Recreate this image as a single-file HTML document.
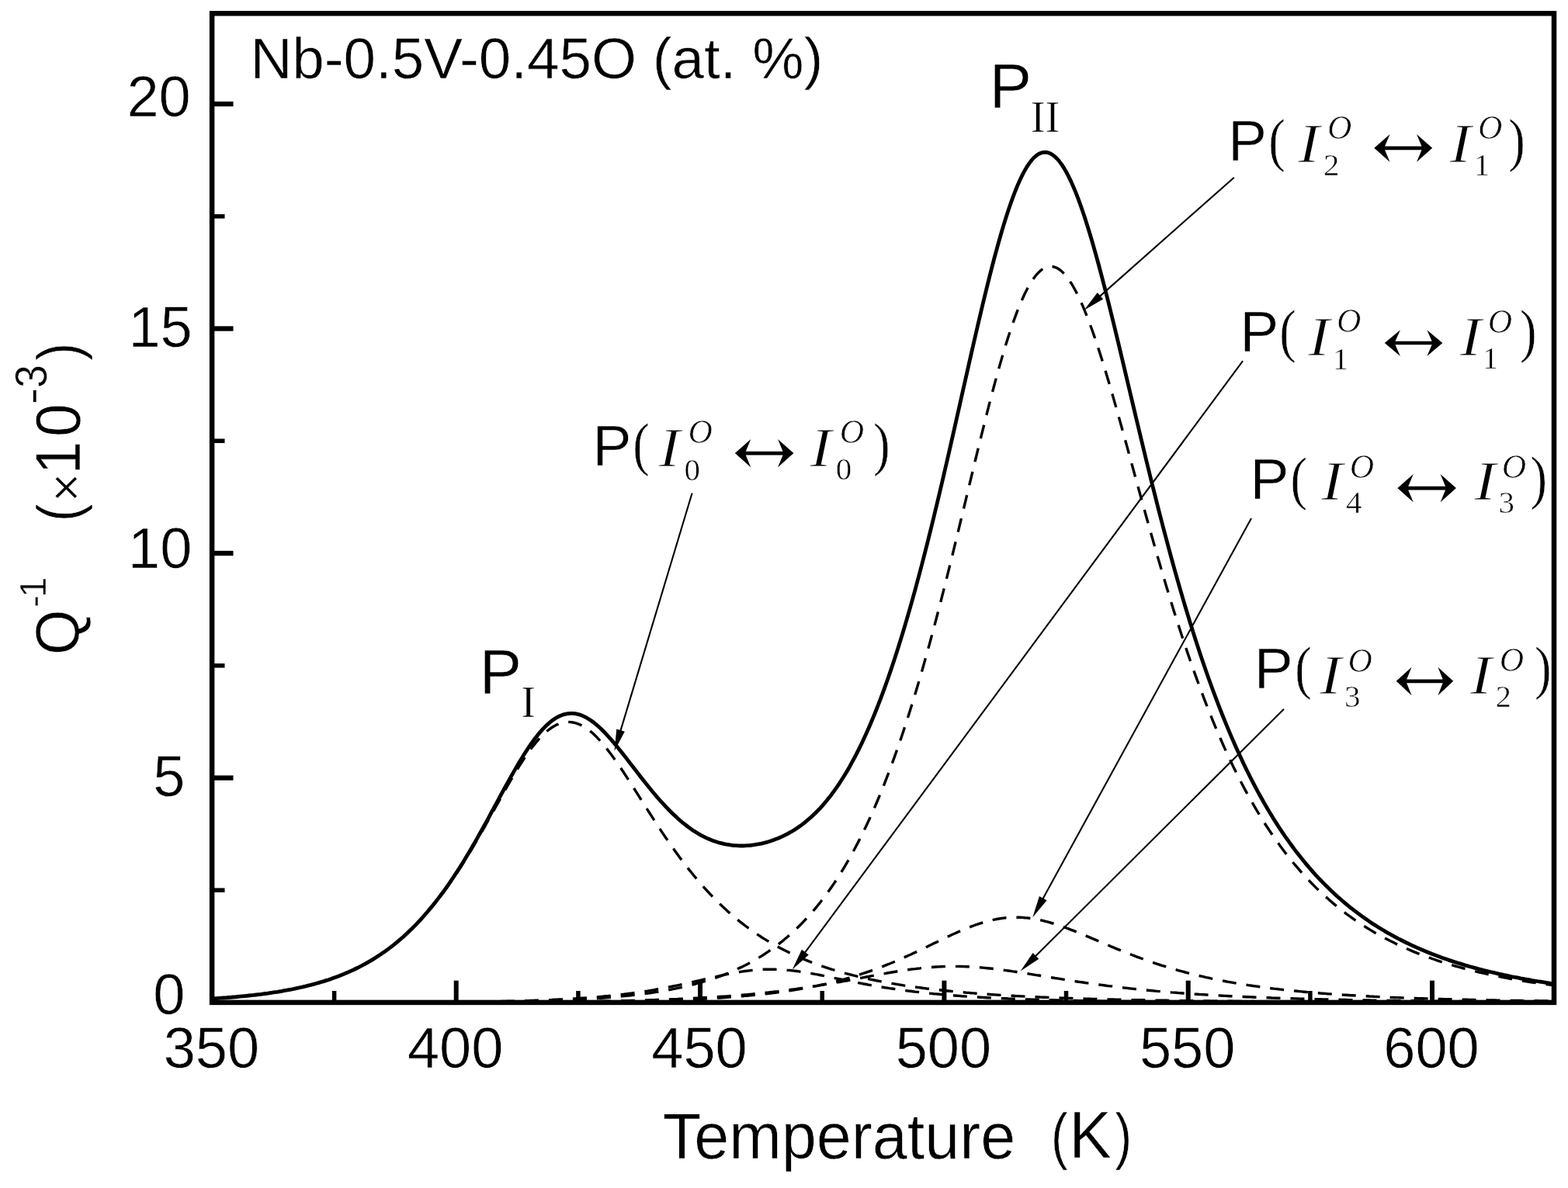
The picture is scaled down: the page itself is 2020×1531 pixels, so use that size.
<!DOCTYPE html>
<html><head><meta charset="utf-8"><title>Internal friction Q-1 vs temperature</title>
<style>html,body{margin:0;padding:0;background:#fff;overflow:hidden;} svg{display:block;}</style>
</head><body>
<svg width="2020" height="1531" viewBox="0 0 2020 1531">
<rect width="2020" height="1531" fill="#fff"/>
<defs><clipPath id="pc"><rect x="273" y="17" width="1729" height="1275"/></clipPath></defs>
<g clip-path="url(#pc)" fill="none" stroke="#000">
<path d="M273.0,1287.0 L276.0,1286.8 L279.0,1286.6 L282.0,1286.4 L285.0,1286.2 L288.0,1286.0 L291.0,1285.7 L294.0,1285.5 L297.0,1285.3 L300.0,1285.0 L303.0,1284.8 L306.0,1284.5 L309.0,1284.2 L312.0,1283.9 L315.0,1283.6 L318.0,1283.3 L321.0,1283.0 L324.0,1282.7 L327.0,1282.3 L330.0,1282.0 L333.0,1281.6 L336.0,1281.2 L339.0,1280.8 L342.0,1280.4 L345.0,1280.0 L348.0,1279.6 L351.0,1279.2 L354.0,1278.7 L357.0,1278.2 L360.0,1277.7 L363.0,1277.2 L366.0,1276.7 L369.0,1276.2 L372.0,1275.6 L375.0,1275.0 L378.0,1274.4 L381.0,1273.8 L384.0,1273.2 L387.0,1272.5 L390.0,1271.8 L393.0,1271.1 L396.0,1270.4 L399.0,1269.7 L402.0,1268.9 L405.0,1268.1 L408.0,1267.2 L411.0,1266.4 L414.0,1265.5 L417.0,1264.6 L420.0,1263.6 L423.0,1262.7 L426.0,1261.6 L429.0,1260.6 L432.0,1259.5 L435.0,1258.4 L438.0,1257.3 L441.0,1256.1 L444.0,1254.8 L447.0,1253.6 L450.0,1252.3 L453.0,1250.9 L456.0,1249.5 L459.0,1248.1 L462.0,1246.6 L465.0,1245.1 L468.0,1243.5 L471.0,1241.9 L474.0,1240.2 L477.0,1238.5 L480.0,1236.7 L483.0,1234.8 L486.0,1233.0 L489.0,1231.0 L492.0,1229.0 L495.0,1226.9 L498.0,1224.8 L501.0,1222.6 L504.0,1220.3 L507.0,1218.0 L510.0,1215.6 L513.0,1213.1 L516.0,1210.6 L519.0,1208.0 L522.0,1205.3 L525.0,1202.5 L528.0,1199.7 L531.0,1196.8 L534.0,1193.8 L537.0,1190.7 L540.0,1187.6 L543.0,1184.3 L546.0,1181.0 L549.0,1177.6 L552.0,1174.1 L555.0,1170.6 L558.0,1166.9 L561.0,1163.2 L564.0,1159.4 L567.0,1155.5 L570.0,1151.6 L573.0,1147.5 L576.0,1143.4 L579.0,1139.1 L582.0,1134.8 L585.0,1130.4 L588.0,1125.9 L591.0,1121.3 L594.0,1116.7 L597.0,1111.9 L600.0,1107.1 L603.0,1102.2 L606.0,1097.2 L609.0,1092.1 L612.0,1087.0 L615.0,1081.9 L618.0,1076.7 L621.0,1071.4 L624.0,1066.1 L627.0,1060.7 L630.0,1055.4 L633.0,1050.0 L636.0,1044.6 L639.0,1039.2 L642.0,1033.8 L645.0,1028.4 L648.0,1023.0 L651.0,1017.7 L654.0,1012.5 L657.0,1007.2 L660.0,1002.1 L663.0,997.0 L666.0,992.1 L669.0,987.2 L672.0,982.5 L675.0,977.9 L678.0,973.4 L681.0,969.2 L684.0,965.0 L687.0,961.1 L690.0,957.4 L693.0,953.8 L696.0,950.5 L699.0,947.4 L702.0,944.6 L705.0,942.0 L708.0,939.6 L711.0,937.5 L714.0,935.7 L717.0,934.1 L720.0,932.8 L723.0,931.8 L726.0,931.1 L729.0,930.6 L732.0,930.4 L735.0,930.6 L738.0,931.0 L741.0,931.6 L744.0,932.6 L747.0,933.8 L750.0,935.3 L753.0,937.0 L756.0,938.9 L759.0,941.1 L762.0,943.6 L765.0,946.3 L768.0,949.2 L771.0,952.4 L774.0,955.7 L777.0,959.1 L780.0,962.8 L783.0,966.6 L786.0,970.5 L789.0,974.5 L792.0,978.7 L795.0,983.0 L798.0,987.4 L801.0,991.8 L804.0,996.3 L807.0,1000.9 L810.0,1005.5 L813.0,1010.2 L816.0,1014.9 L819.0,1019.6 L822.0,1024.4 L825.0,1029.1 L828.0,1033.9 L831.0,1038.6 L834.0,1043.3 L837.0,1048.0 L840.0,1052.7 L843.0,1057.4 L846.0,1062.0 L849.0,1066.6 L852.0,1071.1 L855.0,1075.6 L858.0,1080.0 L861.0,1084.4 L864.0,1088.7 L867.0,1093.0 L870.0,1097.2 L873.0,1101.3 L876.0,1105.4 L879.0,1109.4 L882.0,1113.4 L885.0,1117.3 L888.0,1121.1 L891.0,1124.8 L894.0,1128.5 L897.0,1132.1 L900.0,1135.7 L903.0,1139.1 L906.0,1142.6 L909.0,1145.9 L912.0,1149.2 L915.0,1152.4 L918.0,1155.5 L921.0,1158.6 L924.0,1161.6 L927.0,1164.5 L930.0,1167.4 L933.0,1170.2 L936.0,1173.0 L939.0,1175.7 L942.0,1178.3 L945.0,1180.9 L948.0,1183.4 L951.0,1185.9 L954.0,1188.3 L957.0,1190.7 L960.0,1193.0 L963.0,1195.2 L966.0,1197.4 L969.0,1199.6 L972.0,1201.7 L975.0,1203.7 L978.0,1205.7 L981.0,1207.7 L984.0,1209.6 L987.0,1211.4 L990.0,1213.2 L993.0,1215.0 L996.0,1216.8 L999.0,1218.5 L1002.0,1220.1 L1005.0,1221.7 L1008.0,1223.3 L1011.0,1224.8 L1014.0,1226.3 L1017.0,1227.8 L1020.0,1229.2 L1023.0,1230.6 L1026.0,1232.0 L1029.0,1233.3 L1032.0,1234.6 L1035.0,1235.9 L1038.0,1237.2 L1041.0,1238.4 L1044.0,1239.6 L1047.0,1240.7 L1050.0,1241.8 L1053.0,1242.9 L1056.0,1244.0 L1059.0,1245.1 L1062.0,1246.1 L1065.0,1247.1 L1068.0,1248.1 L1071.0,1249.0 L1074.0,1250.0 L1077.0,1250.9 L1080.0,1251.8 L1083.0,1252.6 L1086.0,1253.5 L1089.0,1254.3 L1092.0,1255.1 L1095.0,1255.9 L1098.0,1256.7 L1101.0,1257.4 L1104.0,1258.2 L1107.0,1258.9 L1110.0,1259.6 L1113.0,1260.3 L1116.0,1261.0 L1119.0,1261.6 L1122.0,1262.3 L1125.0,1262.9 L1128.0,1263.5 L1131.0,1264.1 L1134.0,1264.7 L1137.0,1265.3 L1140.0,1265.8 L1143.0,1266.4 L1146.0,1266.9 L1149.0,1267.4 L1152.0,1267.9 L1155.0,1268.4 L1158.0,1268.9 L1161.0,1269.4 L1164.0,1269.9 L1167.0,1270.3 L1170.0,1270.8 L1173.0,1271.2 L1176.0,1271.6 L1179.0,1272.0 L1182.0,1272.4 L1185.0,1272.8 L1188.0,1273.2 L1191.0,1273.6 L1194.0,1274.0 L1197.0,1274.3 L1200.0,1274.7 L1203.0,1275.0 L1206.0,1275.4 L1209.0,1275.7 L1212.0,1276.0 L1215.0,1276.4 L1218.0,1276.7 L1221.0,1277.0 L1224.0,1277.3 L1227.0,1277.6 L1230.0,1277.9 L1233.0,1278.1 L1236.0,1278.4 L1239.0,1278.7 L1242.0,1278.9 L1245.0,1279.2 L1248.0,1279.4 L1251.0,1279.7 L1254.0,1279.9 L1257.0,1280.2 L1260.0,1280.4 L1263.0,1280.6 L1266.0,1280.8 L1269.0,1281.1 L1272.0,1281.3 L1275.0,1281.5 L1278.0,1281.7 L1281.0,1281.9 L1284.0,1282.1 L1287.0,1282.3 L1290.0,1282.4 L1293.0,1282.6 L1296.0,1282.8 L1299.0,1283.0 L1302.0,1283.1 L1305.0,1283.3 L1308.0,1283.5 L1311.0,1283.6 L1314.0,1283.8 L1317.0,1283.9 L1320.0,1284.1 L1323.0,1284.2 L1326.0,1284.4 L1329.0,1284.5 L1332.0,1284.7 L1335.0,1284.8 L1338.0,1284.9 L1341.0,1285.1 L1344.0,1285.2 L1347.0,1285.3 L1350.0,1285.4 L1353.0,1285.6 L1356.0,1285.7 L1359.0,1285.8 L1362.0,1285.9 L1365.0,1286.0 L1368.0,1286.1 L1371.0,1286.2 L1374.0,1286.3 L1377.0,1286.4 L1380.0,1286.5 L1383.0,1286.6 L1386.0,1286.7 L1389.0,1286.8 L1392.0,1286.9 L1395.0,1287.0 L1398.0,1287.1 L1401.0,1287.2 L1404.0,1287.3 L1407.0,1287.4 L1410.0,1287.4 L1413.0,1287.5 L1416.0,1287.6 L1419.0,1287.7 L1422.0,1287.8 L1425.0,1287.8 L1428.0,1287.9 L1431.0,1288.0 L1434.0,1288.0 L1437.0,1288.1 L1440.0,1288.2 L1443.0,1288.2 L1446.0,1288.3 L1449.0,1288.4 L1452.0,1288.4 L1455.0,1288.5 L1458.0,1288.6 L1461.0,1288.6 L1464.0,1288.7 L1467.0,1288.7 L1470.0,1288.8 L1473.0,1288.8 L1476.0,1288.9 L1479.0,1289.0 L1482.0,1289.0 L1485.0,1289.1 L1488.0,1289.1 L1491.0,1289.2 L1494.0,1289.2 L1497.0,1289.2 L1500.0,1289.3 L1503.0,1289.3 L1506.0,1289.4 L1509.0,1289.4 L1512.0,1289.5 L1515.0,1289.5 L1518.0,1289.6 L1521.0,1289.6 L1524.0,1289.6 L1527.0,1289.7 L1530.0,1289.7 L1533.0,1289.8 L1536.0,1289.8 L1539.0,1289.8 L1542.0,1289.9 L1545.0,1289.9 L1548.0,1289.9 L1551.0,1290.0 L1554.0,1290.0 L1557.0,1290.0 L1560.0,1290.1 L1563.0,1290.1 L1566.0,1290.1 L1569.0,1290.2 L1572.0,1290.2 L1575.0,1290.2 L1578.0,1290.2 L1581.0,1290.3 L1584.0,1290.3 L1587.0,1290.3 L1590.0,1290.4 L1593.0,1290.4 L1596.0,1290.4 L1599.0,1290.4 L1602.0,1290.5 L1605.0,1290.5 L1608.0,1290.5 L1611.0,1290.5 L1614.0,1290.5 L1617.0,1290.6 L1620.0,1290.6 L1623.0,1290.6 L1626.0,1290.6 L1629.0,1290.7 L1632.0,1290.7 L1635.0,1290.7 L1638.0,1290.7 L1641.0,1290.7 L1644.0,1290.8 L1647.0,1290.8 L1650.0,1290.8 L1653.0,1290.8 L1656.0,1290.8 L1659.0,1290.9 L1662.0,1290.9 L1665.0,1290.9 L1668.0,1290.9 L1671.0,1290.9 L1674.0,1290.9 L1677.0,1291.0 L1680.0,1291.0 L1683.0,1291.0 L1686.0,1291.0 L1689.0,1291.0 L1692.0,1291.0 L1695.0,1291.0 L1698.0,1291.1 L1701.0,1291.1 L1704.0,1291.1 L1707.0,1291.1 L1710.0,1291.1 L1713.0,1291.1 L1716.0,1291.1 L1719.0,1291.2 L1722.0,1291.2 L1725.0,1291.2 L1728.0,1291.2 L1731.0,1291.2 L1734.0,1291.2 L1737.0,1291.2 L1740.0,1291.2 L1743.0,1291.2 L1746.0,1291.3 L1749.0,1291.3 L1752.0,1291.3 L1755.0,1291.3 L1758.0,1291.3 L1761.0,1291.3 L1764.0,1291.3 L1767.0,1291.3 L1770.0,1291.3 L1773.0,1291.4 L1776.0,1291.4 L1779.0,1291.4 L1782.0,1291.4 L1785.0,1291.4 L1788.0,1291.4 L1791.0,1291.4 L1794.0,1291.4 L1797.0,1291.4 L1800.0,1291.4 L1803.0,1291.4 L1806.0,1291.4 L1809.0,1291.5 L1812.0,1291.5 L1815.0,1291.5 L1818.0,1291.5 L1821.0,1291.5 L1824.0,1291.5 L1827.0,1291.5 L1830.0,1291.5 L1833.0,1291.5 L1836.0,1291.5 L1839.0,1291.5 L1842.0,1291.5 L1845.0,1291.5 L1848.0,1291.5 L1851.0,1291.6 L1854.0,1291.6 L1857.0,1291.6 L1860.0,1291.6 L1863.0,1291.6 L1866.0,1291.6 L1869.0,1291.6 L1872.0,1291.6 L1875.0,1291.6 L1878.0,1291.6 L1881.0,1291.6 L1884.0,1291.6 L1887.0,1291.6 L1890.0,1291.6 L1893.0,1291.6 L1896.0,1291.6 L1899.0,1291.6 L1902.0,1291.6 L1905.0,1291.7 L1908.0,1291.7 L1911.0,1291.7 L1914.0,1291.7 L1917.0,1291.7 L1920.0,1291.7 L1923.0,1291.7 L1926.0,1291.7 L1929.0,1291.7 L1932.0,1291.7 L1935.0,1291.7 L1938.0,1291.7 L1941.0,1291.7 L1944.0,1291.7 L1947.0,1291.7 L1950.0,1291.7 L1953.0,1291.7 L1956.0,1291.7 L1959.0,1291.7 L1962.0,1291.7 L1965.0,1291.7 L1968.0,1291.7 L1971.0,1291.7 L1974.0,1291.7 L1977.0,1291.7 L1980.0,1291.7 L1983.0,1291.8 L1986.0,1291.8 L1989.0,1291.8 L1992.0,1291.8 L1995.0,1291.8 L1998.0,1291.8 L2001.0,1291.8" stroke-width="3.4" stroke-dasharray="18 13"/>
<path d="M273.0,1292.0 L276.0,1292.0 L279.0,1292.0 L282.0,1292.0 L285.0,1292.0 L288.0,1292.0 L291.0,1292.0 L294.0,1292.0 L297.0,1292.0 L300.0,1292.0 L303.0,1292.0 L306.0,1292.0 L309.0,1292.0 L312.0,1292.0 L315.0,1292.0 L318.0,1292.0 L321.0,1292.0 L324.0,1292.0 L327.0,1292.0 L330.0,1292.0 L333.0,1292.0 L336.0,1292.0 L339.0,1292.0 L342.0,1292.0 L345.0,1292.0 L348.0,1292.0 L351.0,1292.0 L354.0,1292.0 L357.0,1292.0 L360.0,1292.0 L363.0,1292.0 L366.0,1292.0 L369.0,1292.0 L372.0,1292.0 L375.0,1292.0 L378.0,1292.0 L381.0,1292.0 L384.0,1292.0 L387.0,1292.0 L390.0,1292.0 L393.0,1292.0 L396.0,1292.0 L399.0,1292.0 L402.0,1292.0 L405.0,1292.0 L408.0,1292.0 L411.0,1291.9 L414.0,1291.9 L417.0,1291.9 L420.0,1291.9 L423.0,1291.9 L426.0,1291.9 L429.0,1291.9 L432.0,1291.9 L435.0,1291.9 L438.0,1291.9 L441.0,1291.9 L444.0,1291.9 L447.0,1291.9 L450.0,1291.9 L453.0,1291.9 L456.0,1291.9 L459.0,1291.9 L462.0,1291.9 L465.0,1291.9 L468.0,1291.9 L471.0,1291.9 L474.0,1291.9 L477.0,1291.9 L480.0,1291.9 L483.0,1291.8 L486.0,1291.8 L489.0,1291.8 L492.0,1291.8 L495.0,1291.8 L498.0,1291.8 L501.0,1291.8 L504.0,1291.8 L507.0,1291.8 L510.0,1291.8 L513.0,1291.8 L516.0,1291.7 L519.0,1291.7 L522.0,1291.7 L525.0,1291.7 L528.0,1291.7 L531.0,1291.7 L534.0,1291.7 L537.0,1291.7 L540.0,1291.6 L543.0,1291.6 L546.0,1291.6 L549.0,1291.6 L552.0,1291.6 L555.0,1291.6 L558.0,1291.5 L561.0,1291.5 L564.0,1291.5 L567.0,1291.5 L570.0,1291.4 L573.0,1291.4 L576.0,1291.4 L579.0,1291.4 L582.0,1291.3 L585.0,1291.3 L588.0,1291.3 L591.0,1291.3 L594.0,1291.2 L597.0,1291.2 L600.0,1291.2 L603.0,1291.1 L606.0,1291.1 L609.0,1291.1 L612.0,1291.0 L615.0,1291.0 L618.0,1290.9 L621.0,1290.9 L624.0,1290.8 L627.0,1290.8 L630.0,1290.8 L633.0,1290.7 L636.0,1290.6 L639.0,1290.6 L642.0,1290.5 L645.0,1290.5 L648.0,1290.4 L651.0,1290.4 L654.0,1290.3 L657.0,1290.2 L660.0,1290.2 L663.0,1290.1 L666.0,1290.0 L669.0,1289.9 L672.0,1289.8 L675.0,1289.8 L678.0,1289.7 L681.0,1289.6 L684.0,1289.5 L687.0,1289.4 L690.0,1289.3 L693.0,1289.2 L696.0,1289.1 L699.0,1289.0 L702.0,1288.8 L705.0,1288.7 L708.0,1288.6 L711.0,1288.5 L714.0,1288.3 L717.0,1288.2 L720.0,1288.0 L723.0,1287.9 L726.0,1287.7 L729.0,1287.6 L732.0,1287.4 L735.0,1287.2 L738.0,1287.1 L741.0,1286.9 L744.0,1286.7 L747.0,1286.5 L750.0,1286.3 L753.0,1286.1 L756.0,1285.9 L759.0,1285.6 L762.0,1285.4 L765.0,1285.2 L768.0,1284.9 L771.0,1284.7 L774.0,1284.4 L777.0,1284.1 L780.0,1283.8 L783.0,1283.6 L786.0,1283.3 L789.0,1283.0 L792.0,1282.6 L795.0,1282.3 L798.0,1282.0 L801.0,1281.6 L804.0,1281.3 L807.0,1280.9 L810.0,1280.5 L813.0,1280.1 L816.0,1279.7 L819.0,1279.3 L822.0,1278.9 L825.0,1278.4 L828.0,1278.0 L831.0,1277.5 L834.0,1277.1 L837.0,1276.6 L840.0,1276.1 L843.0,1275.6 L846.0,1275.0 L849.0,1274.5 L852.0,1274.0 L855.0,1273.4 L858.0,1272.8 L861.0,1272.2 L864.0,1271.6 L867.0,1271.0 L870.0,1270.4 L873.0,1269.8 L876.0,1269.2 L879.0,1268.5 L882.0,1267.9 L885.0,1267.2 L888.0,1266.5 L891.0,1265.8 L894.0,1265.2 L897.0,1264.5 L900.0,1263.8 L903.0,1263.1 L906.0,1262.4 L909.0,1261.7 L912.0,1261.0 L915.0,1260.3 L918.0,1259.6 L921.0,1258.9 L924.0,1258.3 L927.0,1257.6 L930.0,1257.0 L933.0,1256.3 L936.0,1255.7 L939.0,1255.1 L942.0,1254.5 L945.0,1253.9 L948.0,1253.4 L951.0,1252.9 L954.0,1252.4 L957.0,1251.9 L960.0,1251.5 L963.0,1251.1 L966.0,1250.8 L969.0,1250.4 L972.0,1250.1 L975.0,1249.9 L978.0,1249.7 L981.0,1249.5 L984.0,1249.3 L987.0,1249.3 L990.0,1249.2 L993.0,1249.2 L996.0,1249.2 L999.0,1249.3 L1002.0,1249.4 L1005.0,1249.5 L1008.0,1249.7 L1011.0,1249.9 L1014.0,1250.2 L1017.0,1250.4 L1020.0,1250.8 L1023.0,1251.1 L1026.0,1251.5 L1029.0,1251.9 L1032.0,1252.3 L1035.0,1252.8 L1038.0,1253.3 L1041.0,1253.8 L1044.0,1254.3 L1047.0,1254.8 L1050.0,1255.4 L1053.0,1255.9 L1056.0,1256.5 L1059.0,1257.1 L1062.0,1257.7 L1065.0,1258.3 L1068.0,1258.9 L1071.0,1259.5 L1074.0,1260.2 L1077.0,1260.8 L1080.0,1261.4 L1083.0,1262.0 L1086.0,1262.6 L1089.0,1263.2 L1092.0,1263.8 L1095.0,1264.5 L1098.0,1265.1 L1101.0,1265.6 L1104.0,1266.2 L1107.0,1266.8 L1110.0,1267.4 L1113.0,1268.0 L1116.0,1268.5 L1119.0,1269.1 L1122.0,1269.6 L1125.0,1270.1 L1128.0,1270.7 L1131.0,1271.2 L1134.0,1271.7 L1137.0,1272.2 L1140.0,1272.7 L1143.0,1273.1 L1146.0,1273.6 L1149.0,1274.0 L1152.0,1274.5 L1155.0,1274.9 L1158.0,1275.4 L1161.0,1275.8 L1164.0,1276.2 L1167.0,1276.6 L1170.0,1277.0 L1173.0,1277.3 L1176.0,1277.7 L1179.0,1278.1 L1182.0,1278.4 L1185.0,1278.8 L1188.0,1279.1 L1191.0,1279.4 L1194.0,1279.7 L1197.0,1280.1 L1200.0,1280.4 L1203.0,1280.7 L1206.0,1280.9 L1209.0,1281.2 L1212.0,1281.5 L1215.0,1281.8 L1218.0,1282.0 L1221.0,1282.3 L1224.0,1282.5 L1227.0,1282.8 L1230.0,1283.0 L1233.0,1283.2 L1236.0,1283.4 L1239.0,1283.7 L1242.0,1283.9 L1245.0,1284.1 L1248.0,1284.3 L1251.0,1284.5 L1254.0,1284.7 L1257.0,1284.8 L1260.0,1285.0 L1263.0,1285.2 L1266.0,1285.4 L1269.0,1285.5 L1272.0,1285.7 L1275.0,1285.9 L1278.0,1286.0 L1281.0,1286.2 L1284.0,1286.3 L1287.0,1286.4 L1290.0,1286.6 L1293.0,1286.7 L1296.0,1286.8 L1299.0,1287.0 L1302.0,1287.1 L1305.0,1287.2 L1308.0,1287.3 L1311.0,1287.4 L1314.0,1287.6 L1317.0,1287.7 L1320.0,1287.8 L1323.0,1287.9 L1326.0,1288.0 L1329.0,1288.1 L1332.0,1288.2 L1335.0,1288.3 L1338.0,1288.3 L1341.0,1288.4 L1344.0,1288.5 L1347.0,1288.6 L1350.0,1288.7 L1353.0,1288.8 L1356.0,1288.8 L1359.0,1288.9 L1362.0,1289.0 L1365.0,1289.1 L1368.0,1289.1 L1371.0,1289.2 L1374.0,1289.3 L1377.0,1289.3 L1380.0,1289.4 L1383.0,1289.5 L1386.0,1289.5 L1389.0,1289.6 L1392.0,1289.6 L1395.0,1289.7 L1398.0,1289.7 L1401.0,1289.8 L1404.0,1289.8 L1407.0,1289.9 L1410.0,1289.9 L1413.0,1290.0 L1416.0,1290.0 L1419.0,1290.1 L1422.0,1290.1 L1425.0,1290.2 L1428.0,1290.2 L1431.0,1290.3 L1434.0,1290.3 L1437.0,1290.3 L1440.0,1290.4 L1443.0,1290.4 L1446.0,1290.4 L1449.0,1290.5 L1452.0,1290.5 L1455.0,1290.5 L1458.0,1290.6 L1461.0,1290.6 L1464.0,1290.6 L1467.0,1290.7 L1470.0,1290.7 L1473.0,1290.7 L1476.0,1290.8 L1479.0,1290.8 L1482.0,1290.8 L1485.0,1290.8 L1488.0,1290.9 L1491.0,1290.9 L1494.0,1290.9 L1497.0,1290.9 L1500.0,1291.0 L1503.0,1291.0 L1506.0,1291.0 L1509.0,1291.0 L1512.0,1291.1 L1515.0,1291.1 L1518.0,1291.1 L1521.0,1291.1 L1524.0,1291.1 L1527.0,1291.1 L1530.0,1291.2 L1533.0,1291.2 L1536.0,1291.2 L1539.0,1291.2 L1542.0,1291.2 L1545.0,1291.3 L1548.0,1291.3 L1551.0,1291.3 L1554.0,1291.3 L1557.0,1291.3 L1560.0,1291.3 L1563.0,1291.3 L1566.0,1291.4 L1569.0,1291.4 L1572.0,1291.4 L1575.0,1291.4 L1578.0,1291.4 L1581.0,1291.4 L1584.0,1291.4 L1587.0,1291.4 L1590.0,1291.5 L1593.0,1291.5 L1596.0,1291.5 L1599.0,1291.5 L1602.0,1291.5 L1605.0,1291.5 L1608.0,1291.5 L1611.0,1291.5 L1614.0,1291.5 L1617.0,1291.6 L1620.0,1291.6 L1623.0,1291.6 L1626.0,1291.6 L1629.0,1291.6 L1632.0,1291.6 L1635.0,1291.6 L1638.0,1291.6 L1641.0,1291.6 L1644.0,1291.6 L1647.0,1291.6 L1650.0,1291.6 L1653.0,1291.6 L1656.0,1291.7 L1659.0,1291.7 L1662.0,1291.7 L1665.0,1291.7 L1668.0,1291.7 L1671.0,1291.7 L1674.0,1291.7 L1677.0,1291.7 L1680.0,1291.7 L1683.0,1291.7 L1686.0,1291.7 L1689.0,1291.7 L1692.0,1291.7 L1695.0,1291.7 L1698.0,1291.7 L1701.0,1291.7 L1704.0,1291.8 L1707.0,1291.8 L1710.0,1291.8 L1713.0,1291.8 L1716.0,1291.8 L1719.0,1291.8 L1722.0,1291.8 L1725.0,1291.8 L1728.0,1291.8 L1731.0,1291.8 L1734.0,1291.8 L1737.0,1291.8 L1740.0,1291.8 L1743.0,1291.8 L1746.0,1291.8 L1749.0,1291.8 L1752.0,1291.8 L1755.0,1291.8 L1758.0,1291.8 L1761.0,1291.8 L1764.0,1291.8 L1767.0,1291.8 L1770.0,1291.8 L1773.0,1291.8 L1776.0,1291.8 L1779.0,1291.8 L1782.0,1291.8 L1785.0,1291.9 L1788.0,1291.9 L1791.0,1291.9 L1794.0,1291.9 L1797.0,1291.9 L1800.0,1291.9 L1803.0,1291.9 L1806.0,1291.9 L1809.0,1291.9 L1812.0,1291.9 L1815.0,1291.9 L1818.0,1291.9 L1821.0,1291.9 L1824.0,1291.9 L1827.0,1291.9 L1830.0,1291.9 L1833.0,1291.9 L1836.0,1291.9 L1839.0,1291.9 L1842.0,1291.9 L1845.0,1291.9 L1848.0,1291.9 L1851.0,1291.9 L1854.0,1291.9 L1857.0,1291.9 L1860.0,1291.9 L1863.0,1291.9 L1866.0,1291.9 L1869.0,1291.9 L1872.0,1291.9 L1875.0,1291.9 L1878.0,1291.9 L1881.0,1291.9 L1884.0,1291.9 L1887.0,1291.9 L1890.0,1291.9 L1893.0,1291.9 L1896.0,1291.9 L1899.0,1291.9 L1902.0,1291.9 L1905.0,1291.9 L1908.0,1291.9 L1911.0,1291.9 L1914.0,1291.9 L1917.0,1291.9 L1920.0,1291.9 L1923.0,1291.9 L1926.0,1291.9 L1929.0,1291.9 L1932.0,1291.9 L1935.0,1291.9 L1938.0,1291.9 L1941.0,1291.9 L1944.0,1291.9 L1947.0,1291.9 L1950.0,1291.9 L1953.0,1291.9 L1956.0,1291.9 L1959.0,1291.9 L1962.0,1291.9 L1965.0,1292.0 L1968.0,1292.0 L1971.0,1292.0 L1974.0,1292.0 L1977.0,1292.0 L1980.0,1292.0 L1983.0,1292.0 L1986.0,1292.0 L1989.0,1292.0 L1992.0,1292.0 L1995.0,1292.0 L1998.0,1292.0 L2001.0,1292.0" stroke-width="3.4" stroke-dasharray="18 13"/>
<path d="M273.0,1292.0 L276.0,1292.0 L279.0,1292.0 L282.0,1292.0 L285.0,1292.0 L288.0,1292.0 L291.0,1292.0 L294.0,1292.0 L297.0,1292.0 L300.0,1292.0 L303.0,1292.0 L306.0,1292.0 L309.0,1292.0 L312.0,1292.0 L315.0,1292.0 L318.0,1292.0 L321.0,1292.0 L324.0,1292.0 L327.0,1292.0 L330.0,1292.0 L333.0,1292.0 L336.0,1292.0 L339.0,1292.0 L342.0,1292.0 L345.0,1292.0 L348.0,1292.0 L351.0,1292.0 L354.0,1292.0 L357.0,1292.0 L360.0,1292.0 L363.0,1292.0 L366.0,1292.0 L369.0,1292.0 L372.0,1292.0 L375.0,1292.0 L378.0,1292.0 L381.0,1292.0 L384.0,1292.0 L387.0,1292.0 L390.0,1292.0 L393.0,1292.0 L396.0,1292.0 L399.0,1292.0 L402.0,1292.0 L405.0,1292.0 L408.0,1292.0 L411.0,1292.0 L414.0,1292.0 L417.0,1292.0 L420.0,1292.0 L423.0,1292.0 L426.0,1292.0 L429.0,1292.0 L432.0,1292.0 L435.0,1292.0 L438.0,1292.0 L441.0,1292.0 L444.0,1292.0 L447.0,1292.0 L450.0,1292.0 L453.0,1292.0 L456.0,1292.0 L459.0,1292.0 L462.0,1292.0 L465.0,1292.0 L468.0,1292.0 L471.0,1291.9 L474.0,1291.9 L477.0,1291.9 L480.0,1291.9 L483.0,1291.9 L486.0,1291.9 L489.0,1291.9 L492.0,1291.9 L495.0,1291.9 L498.0,1291.9 L501.0,1291.9 L504.0,1291.9 L507.0,1291.9 L510.0,1291.9 L513.0,1291.9 L516.0,1291.9 L519.0,1291.9 L522.0,1291.9 L525.0,1291.9 L528.0,1291.9 L531.0,1291.9 L534.0,1291.9 L537.0,1291.9 L540.0,1291.9 L543.0,1291.9 L546.0,1291.9 L549.0,1291.9 L552.0,1291.9 L555.0,1291.9 L558.0,1291.8 L561.0,1291.8 L564.0,1291.8 L567.0,1291.8 L570.0,1291.8 L573.0,1291.8 L576.0,1291.8 L579.0,1291.8 L582.0,1291.8 L585.0,1291.8 L588.0,1291.8 L591.0,1291.8 L594.0,1291.8 L597.0,1291.8 L600.0,1291.7 L603.0,1291.7 L606.0,1291.7 L609.0,1291.7 L612.0,1291.7 L615.0,1291.7 L618.0,1291.7 L621.0,1291.7 L624.0,1291.7 L627.0,1291.7 L630.0,1291.6 L633.0,1291.6 L636.0,1291.6 L639.0,1291.6 L642.0,1291.6 L645.0,1291.6 L648.0,1291.6 L651.0,1291.5 L654.0,1291.5 L657.0,1291.5 L660.0,1291.5 L663.0,1291.5 L666.0,1291.5 L669.0,1291.4 L672.0,1291.4 L675.0,1291.4 L678.0,1291.4 L681.0,1291.4 L684.0,1291.3 L687.0,1291.3 L690.0,1291.3 L693.0,1291.3 L696.0,1291.3 L699.0,1291.2 L702.0,1291.2 L705.0,1291.2 L708.0,1291.2 L711.0,1291.1 L714.0,1291.1 L717.0,1291.1 L720.0,1291.0 L723.0,1291.0 L726.0,1291.0 L729.0,1290.9 L732.0,1290.9 L735.0,1290.9 L738.0,1290.8 L741.0,1290.8 L744.0,1290.8 L747.0,1290.7 L750.0,1290.7 L753.0,1290.6 L756.0,1290.6 L759.0,1290.5 L762.0,1290.5 L765.0,1290.5 L768.0,1290.4 L771.0,1290.4 L774.0,1290.3 L777.0,1290.2 L780.0,1290.2 L783.0,1290.1 L786.0,1290.1 L789.0,1290.0 L792.0,1290.0 L795.0,1289.9 L798.0,1289.8 L801.0,1289.8 L804.0,1289.7 L807.0,1289.6 L810.0,1289.6 L813.0,1289.5 L816.0,1289.4 L819.0,1289.3 L822.0,1289.2 L825.0,1289.2 L828.0,1289.1 L831.0,1289.0 L834.0,1288.9 L837.0,1288.8 L840.0,1288.7 L843.0,1288.6 L846.0,1288.5 L849.0,1288.4 L852.0,1288.3 L855.0,1288.2 L858.0,1288.1 L861.0,1288.0 L864.0,1287.8 L867.0,1287.7 L870.0,1287.6 L873.0,1287.5 L876.0,1287.3 L879.0,1287.2 L882.0,1287.1 L885.0,1286.9 L888.0,1286.8 L891.0,1286.6 L894.0,1286.5 L897.0,1286.3 L900.0,1286.2 L903.0,1286.0 L906.0,1285.8 L909.0,1285.6 L912.0,1285.5 L915.0,1285.3 L918.0,1285.1 L921.0,1284.9 L924.0,1284.7 L927.0,1284.5 L930.0,1284.3 L933.0,1284.1 L936.0,1283.9 L939.0,1283.7 L942.0,1283.4 L945.0,1283.2 L948.0,1282.9 L951.0,1282.7 L954.0,1282.5 L957.0,1282.2 L960.0,1281.9 L963.0,1281.7 L966.0,1281.4 L969.0,1281.1 L972.0,1280.8 L975.0,1280.5 L978.0,1280.2 L981.0,1279.9 L984.0,1279.6 L987.0,1279.3 L990.0,1279.0 L993.0,1278.6 L996.0,1278.3 L999.0,1277.9 L1002.0,1277.6 L1005.0,1277.2 L1008.0,1276.8 L1011.0,1276.5 L1014.0,1276.1 L1017.0,1275.7 L1020.0,1275.3 L1023.0,1274.9 L1026.0,1274.5 L1029.0,1274.0 L1032.0,1273.6 L1035.0,1273.2 L1038.0,1272.7 L1041.0,1272.3 L1044.0,1271.8 L1047.0,1271.3 L1050.0,1270.9 L1053.0,1270.4 L1056.0,1269.9 L1059.0,1269.4 L1062.0,1268.9 L1065.0,1268.4 L1068.0,1267.9 L1071.0,1267.3 L1074.0,1266.8 L1077.0,1266.3 L1080.0,1265.7 L1083.0,1265.2 L1086.0,1264.7 L1089.0,1264.1 L1092.0,1263.5 L1095.0,1263.0 L1098.0,1262.4 L1101.0,1261.9 L1104.0,1261.3 L1107.0,1260.7 L1110.0,1260.2 L1113.0,1259.6 L1116.0,1259.0 L1119.0,1258.5 L1122.0,1257.9 L1125.0,1257.3 L1128.0,1256.8 L1131.0,1256.2 L1134.0,1255.7 L1137.0,1255.1 L1140.0,1254.6 L1143.0,1254.0 L1146.0,1253.5 L1149.0,1253.0 L1152.0,1252.5 L1155.0,1252.0 L1158.0,1251.5 L1161.0,1251.1 L1164.0,1250.6 L1167.0,1250.2 L1170.0,1249.7 L1173.0,1249.3 L1176.0,1248.9 L1179.0,1248.6 L1182.0,1248.2 L1185.0,1247.9 L1188.0,1247.5 L1191.0,1247.2 L1194.0,1246.9 L1197.0,1246.7 L1200.0,1246.5 L1203.0,1246.2 L1206.0,1246.0 L1209.0,1245.9 L1212.0,1245.7 L1215.0,1245.6 L1218.0,1245.5 L1221.0,1245.4 L1224.0,1245.4 L1227.0,1245.4 L1230.0,1245.4 L1233.0,1245.4 L1236.0,1245.4 L1239.0,1245.5 L1242.0,1245.6 L1245.0,1245.7 L1248.0,1245.8 L1251.0,1246.0 L1254.0,1246.2 L1257.0,1246.4 L1260.0,1246.6 L1263.0,1246.8 L1266.0,1247.1 L1269.0,1247.4 L1272.0,1247.7 L1275.0,1248.0 L1278.0,1248.3 L1281.0,1248.7 L1284.0,1249.0 L1287.0,1249.4 L1290.0,1249.8 L1293.0,1250.2 L1296.0,1250.6 L1299.0,1251.0 L1302.0,1251.4 L1305.0,1251.9 L1308.0,1252.3 L1311.0,1252.8 L1314.0,1253.2 L1317.0,1253.7 L1320.0,1254.1 L1323.0,1254.6 L1326.0,1255.1 L1329.0,1255.6 L1332.0,1256.1 L1335.0,1256.6 L1338.0,1257.0 L1341.0,1257.5 L1344.0,1258.0 L1347.0,1258.5 L1350.0,1259.0 L1353.0,1259.5 L1356.0,1260.0 L1359.0,1260.5 L1362.0,1260.9 L1365.0,1261.4 L1368.0,1261.9 L1371.0,1262.4 L1374.0,1262.9 L1377.0,1263.3 L1380.0,1263.8 L1383.0,1264.2 L1386.0,1264.7 L1389.0,1265.2 L1392.0,1265.6 L1395.0,1266.0 L1398.0,1266.5 L1401.0,1266.9 L1404.0,1267.3 L1407.0,1267.8 L1410.0,1268.2 L1413.0,1268.6 L1416.0,1269.0 L1419.0,1269.4 L1422.0,1269.8 L1425.0,1270.2 L1428.0,1270.6 L1431.0,1270.9 L1434.0,1271.3 L1437.0,1271.7 L1440.0,1272.0 L1443.0,1272.4 L1446.0,1272.8 L1449.0,1273.1 L1452.0,1273.4 L1455.0,1273.8 L1458.0,1274.1 L1461.0,1274.4 L1464.0,1274.7 L1467.0,1275.0 L1470.0,1275.4 L1473.0,1275.7 L1476.0,1275.9 L1479.0,1276.2 L1482.0,1276.5 L1485.0,1276.8 L1488.0,1277.1 L1491.0,1277.4 L1494.0,1277.6 L1497.0,1277.9 L1500.0,1278.1 L1503.0,1278.4 L1506.0,1278.6 L1509.0,1278.9 L1512.0,1279.1 L1515.0,1279.3 L1518.0,1279.6 L1521.0,1279.8 L1524.0,1280.0 L1527.0,1280.2 L1530.0,1280.5 L1533.0,1280.7 L1536.0,1280.9 L1539.0,1281.1 L1542.0,1281.3 L1545.0,1281.5 L1548.0,1281.6 L1551.0,1281.8 L1554.0,1282.0 L1557.0,1282.2 L1560.0,1282.4 L1563.0,1282.5 L1566.0,1282.7 L1569.0,1282.9 L1572.0,1283.0 L1575.0,1283.2 L1578.0,1283.4 L1581.0,1283.5 L1584.0,1283.7 L1587.0,1283.8 L1590.0,1284.0 L1593.0,1284.1 L1596.0,1284.2 L1599.0,1284.4 L1602.0,1284.5 L1605.0,1284.7 L1608.0,1284.8 L1611.0,1284.9 L1614.0,1285.0 L1617.0,1285.2 L1620.0,1285.3 L1623.0,1285.4 L1626.0,1285.5 L1629.0,1285.6 L1632.0,1285.7 L1635.0,1285.8 L1638.0,1286.0 L1641.0,1286.1 L1644.0,1286.2 L1647.0,1286.3 L1650.0,1286.4 L1653.0,1286.5 L1656.0,1286.6 L1659.0,1286.6 L1662.0,1286.7 L1665.0,1286.8 L1668.0,1286.9 L1671.0,1287.0 L1674.0,1287.1 L1677.0,1287.2 L1680.0,1287.3 L1683.0,1287.3 L1686.0,1287.4 L1689.0,1287.5 L1692.0,1287.6 L1695.0,1287.6 L1698.0,1287.7 L1701.0,1287.8 L1704.0,1287.9 L1707.0,1287.9 L1710.0,1288.0 L1713.0,1288.1 L1716.0,1288.1 L1719.0,1288.2 L1722.0,1288.3 L1725.0,1288.3 L1728.0,1288.4 L1731.0,1288.4 L1734.0,1288.5 L1737.0,1288.6 L1740.0,1288.6 L1743.0,1288.7 L1746.0,1288.7 L1749.0,1288.8 L1752.0,1288.8 L1755.0,1288.9 L1758.0,1288.9 L1761.0,1289.0 L1764.0,1289.0 L1767.0,1289.1 L1770.0,1289.1 L1773.0,1289.2 L1776.0,1289.2 L1779.0,1289.3 L1782.0,1289.3 L1785.0,1289.4 L1788.0,1289.4 L1791.0,1289.4 L1794.0,1289.5 L1797.0,1289.5 L1800.0,1289.6 L1803.0,1289.6 L1806.0,1289.6 L1809.0,1289.7 L1812.0,1289.7 L1815.0,1289.8 L1818.0,1289.8 L1821.0,1289.8 L1824.0,1289.9 L1827.0,1289.9 L1830.0,1289.9 L1833.0,1290.0 L1836.0,1290.0 L1839.0,1290.0 L1842.0,1290.1 L1845.0,1290.1 L1848.0,1290.1 L1851.0,1290.1 L1854.0,1290.2 L1857.0,1290.2 L1860.0,1290.2 L1863.0,1290.3 L1866.0,1290.3 L1869.0,1290.3 L1872.0,1290.3 L1875.0,1290.4 L1878.0,1290.4 L1881.0,1290.4 L1884.0,1290.4 L1887.0,1290.5 L1890.0,1290.5 L1893.0,1290.5 L1896.0,1290.5 L1899.0,1290.6 L1902.0,1290.6 L1905.0,1290.6 L1908.0,1290.6 L1911.0,1290.6 L1914.0,1290.7 L1917.0,1290.7 L1920.0,1290.7 L1923.0,1290.7 L1926.0,1290.7 L1929.0,1290.8 L1932.0,1290.8 L1935.0,1290.8 L1938.0,1290.8 L1941.0,1290.8 L1944.0,1290.9 L1947.0,1290.9 L1950.0,1290.9 L1953.0,1290.9 L1956.0,1290.9 L1959.0,1290.9 L1962.0,1290.9 L1965.0,1291.0 L1968.0,1291.0 L1971.0,1291.0 L1974.0,1291.0 L1977.0,1291.0 L1980.0,1291.0 L1983.0,1291.1 L1986.0,1291.1 L1989.0,1291.1 L1992.0,1291.1 L1995.0,1291.1 L1998.0,1291.1 L2001.0,1291.1" stroke-width="3.4" stroke-dasharray="18 13"/>
<path d="M273.0,1292.0 L276.0,1292.0 L279.0,1292.0 L282.0,1292.0 L285.0,1292.0 L288.0,1292.0 L291.0,1292.0 L294.0,1292.0 L297.0,1292.0 L300.0,1292.0 L303.0,1292.0 L306.0,1292.0 L309.0,1292.0 L312.0,1292.0 L315.0,1292.0 L318.0,1292.0 L321.0,1292.0 L324.0,1292.0 L327.0,1292.0 L330.0,1292.0 L333.0,1292.0 L336.0,1292.0 L339.0,1292.0 L342.0,1292.0 L345.0,1292.0 L348.0,1292.0 L351.0,1292.0 L354.0,1292.0 L357.0,1292.0 L360.0,1292.0 L363.0,1292.0 L366.0,1292.0 L369.0,1292.0 L372.0,1292.0 L375.0,1292.0 L378.0,1292.0 L381.0,1292.0 L384.0,1292.0 L387.0,1292.0 L390.0,1292.0 L393.0,1292.0 L396.0,1292.0 L399.0,1292.0 L402.0,1292.0 L405.0,1292.0 L408.0,1292.0 L411.0,1292.0 L414.0,1292.0 L417.0,1292.0 L420.0,1292.0 L423.0,1292.0 L426.0,1292.0 L429.0,1292.0 L432.0,1292.0 L435.0,1292.0 L438.0,1292.0 L441.0,1292.0 L444.0,1292.0 L447.0,1292.0 L450.0,1292.0 L453.0,1292.0 L456.0,1292.0 L459.0,1292.0 L462.0,1292.0 L465.0,1292.0 L468.0,1292.0 L471.0,1292.0 L474.0,1292.0 L477.0,1292.0 L480.0,1292.0 L483.0,1292.0 L486.0,1292.0 L489.0,1292.0 L492.0,1292.0 L495.0,1292.0 L498.0,1292.0 L501.0,1292.0 L504.0,1292.0 L507.0,1292.0 L510.0,1292.0 L513.0,1292.0 L516.0,1292.0 L519.0,1292.0 L522.0,1292.0 L525.0,1292.0 L528.0,1292.0 L531.0,1292.0 L534.0,1292.0 L537.0,1292.0 L540.0,1291.9 L543.0,1291.9 L546.0,1291.9 L549.0,1291.9 L552.0,1291.9 L555.0,1291.9 L558.0,1291.9 L561.0,1291.9 L564.0,1291.9 L567.0,1291.9 L570.0,1291.9 L573.0,1291.9 L576.0,1291.9 L579.0,1291.9 L582.0,1291.9 L585.0,1291.9 L588.0,1291.9 L591.0,1291.9 L594.0,1291.9 L597.0,1291.9 L600.0,1291.9 L603.0,1291.9 L606.0,1291.9 L609.0,1291.9 L612.0,1291.9 L615.0,1291.9 L618.0,1291.8 L621.0,1291.8 L624.0,1291.8 L627.0,1291.8 L630.0,1291.8 L633.0,1291.8 L636.0,1291.8 L639.0,1291.8 L642.0,1291.8 L645.0,1291.8 L648.0,1291.8 L651.0,1291.8 L654.0,1291.8 L657.0,1291.7 L660.0,1291.7 L663.0,1291.7 L666.0,1291.7 L669.0,1291.7 L672.0,1291.7 L675.0,1291.7 L678.0,1291.7 L681.0,1291.7 L684.0,1291.6 L687.0,1291.6 L690.0,1291.6 L693.0,1291.6 L696.0,1291.6 L699.0,1291.6 L702.0,1291.6 L705.0,1291.5 L708.0,1291.5 L711.0,1291.5 L714.0,1291.5 L717.0,1291.5 L720.0,1291.4 L723.0,1291.4 L726.0,1291.4 L729.0,1291.4 L732.0,1291.4 L735.0,1291.3 L738.0,1291.3 L741.0,1291.3 L744.0,1291.2 L747.0,1291.2 L750.0,1291.2 L753.0,1291.2 L756.0,1291.1 L759.0,1291.1 L762.0,1291.1 L765.0,1291.0 L768.0,1291.0 L771.0,1291.0 L774.0,1290.9 L777.0,1290.9 L780.0,1290.8 L783.0,1290.8 L786.0,1290.8 L789.0,1290.7 L792.0,1290.7 L795.0,1290.6 L798.0,1290.6 L801.0,1290.5 L804.0,1290.5 L807.0,1290.4 L810.0,1290.4 L813.0,1290.3 L816.0,1290.2 L819.0,1290.2 L822.0,1290.1 L825.0,1290.0 L828.0,1290.0 L831.0,1289.9 L834.0,1289.8 L837.0,1289.8 L840.0,1289.7 L843.0,1289.6 L846.0,1289.5 L849.0,1289.4 L852.0,1289.3 L855.0,1289.2 L858.0,1289.2 L861.0,1289.1 L864.0,1289.0 L867.0,1288.9 L870.0,1288.7 L873.0,1288.6 L876.0,1288.5 L879.0,1288.4 L882.0,1288.3 L885.0,1288.2 L888.0,1288.0 L891.0,1287.9 L894.0,1287.8 L897.0,1287.6 L900.0,1287.5 L903.0,1287.3 L906.0,1287.2 L909.0,1287.0 L912.0,1286.9 L915.0,1286.7 L918.0,1286.5 L921.0,1286.3 L924.0,1286.1 L927.0,1286.0 L930.0,1285.8 L933.0,1285.6 L936.0,1285.4 L939.0,1285.1 L942.0,1284.9 L945.0,1284.7 L948.0,1284.5 L951.0,1284.2 L954.0,1284.0 L957.0,1283.7 L960.0,1283.4 L963.0,1283.2 L966.0,1282.9 L969.0,1282.6 L972.0,1282.3 L975.0,1282.0 L978.0,1281.7 L981.0,1281.4 L984.0,1281.1 L987.0,1280.7 L990.0,1280.4 L993.0,1280.0 L996.0,1279.6 L999.0,1279.3 L1002.0,1278.9 L1005.0,1278.5 L1008.0,1278.0 L1011.0,1277.6 L1014.0,1277.2 L1017.0,1276.7 L1020.0,1276.3 L1023.0,1275.8 L1026.0,1275.3 L1029.0,1274.8 L1032.0,1274.3 L1035.0,1273.8 L1038.0,1273.2 L1041.0,1272.7 L1044.0,1272.1 L1047.0,1271.5 L1050.0,1270.9 L1053.0,1270.3 L1056.0,1269.7 L1059.0,1269.0 L1062.0,1268.4 L1065.0,1267.7 L1068.0,1267.0 L1071.0,1266.3 L1074.0,1265.5 L1077.0,1264.8 L1080.0,1264.0 L1083.0,1263.2 L1086.0,1262.4 L1089.0,1261.6 L1092.0,1260.7 L1095.0,1259.9 L1098.0,1259.0 L1101.0,1258.1 L1104.0,1257.1 L1107.0,1256.2 L1110.0,1255.2 L1113.0,1254.2 L1116.0,1253.2 L1119.0,1252.2 L1122.0,1251.1 L1125.0,1250.1 L1128.0,1249.0 L1131.0,1247.9 L1134.0,1246.7 L1137.0,1245.6 L1140.0,1244.4 L1143.0,1243.2 L1146.0,1242.0 L1149.0,1240.7 L1152.0,1239.5 L1155.0,1238.2 L1158.0,1236.9 L1161.0,1235.6 L1164.0,1234.3 L1167.0,1232.9 L1170.0,1231.5 L1173.0,1230.2 L1176.0,1228.8 L1179.0,1227.4 L1182.0,1225.9 L1185.0,1224.5 L1188.0,1223.1 L1191.0,1221.6 L1194.0,1220.2 L1197.0,1218.7 L1200.0,1217.3 L1203.0,1215.8 L1206.0,1214.4 L1209.0,1212.9 L1212.0,1211.4 L1215.0,1210.0 L1218.0,1208.6 L1221.0,1207.1 L1224.0,1205.7 L1227.0,1204.3 L1230.0,1203.0 L1233.0,1201.6 L1236.0,1200.3 L1239.0,1199.0 L1242.0,1197.7 L1245.0,1196.5 L1248.0,1195.3 L1251.0,1194.1 L1254.0,1193.0 L1257.0,1191.9 L1260.0,1190.9 L1263.0,1189.9 L1266.0,1189.0 L1269.0,1188.1 L1272.0,1187.2 L1275.0,1186.5 L1278.0,1185.8 L1281.0,1185.1 L1284.0,1184.5 L1287.0,1184.0 L1290.0,1183.5 L1293.0,1183.1 L1296.0,1182.8 L1299.0,1182.6 L1302.0,1182.4 L1305.0,1182.2 L1308.0,1182.2 L1311.0,1182.2 L1314.0,1182.3 L1317.0,1182.4 L1320.0,1182.7 L1323.0,1182.9 L1326.0,1183.3 L1329.0,1183.7 L1332.0,1184.2 L1335.0,1184.7 L1338.0,1185.3 L1341.0,1185.9 L1344.0,1186.6 L1347.0,1187.4 L1350.0,1188.1 L1353.0,1189.0 L1356.0,1189.9 L1359.0,1190.8 L1362.0,1191.8 L1365.0,1192.8 L1368.0,1193.8 L1371.0,1194.9 L1374.0,1196.0 L1377.0,1197.1 L1380.0,1198.3 L1383.0,1199.4 L1386.0,1200.6 L1389.0,1201.8 L1392.0,1203.1 L1395.0,1204.3 L1398.0,1205.6 L1401.0,1206.8 L1404.0,1208.1 L1407.0,1209.4 L1410.0,1210.6 L1413.0,1211.9 L1416.0,1213.2 L1419.0,1214.5 L1422.0,1215.8 L1425.0,1217.0 L1428.0,1218.3 L1431.0,1219.6 L1434.0,1220.8 L1437.0,1222.1 L1440.0,1223.3 L1443.0,1224.5 L1446.0,1225.7 L1449.0,1226.9 L1452.0,1228.1 L1455.0,1229.3 L1458.0,1230.5 L1461.0,1231.6 L1464.0,1232.8 L1467.0,1233.9 L1470.0,1235.0 L1473.0,1236.1 L1476.0,1237.2 L1479.0,1238.2 L1482.0,1239.3 L1485.0,1240.3 L1488.0,1241.3 L1491.0,1242.3 L1494.0,1243.3 L1497.0,1244.3 L1500.0,1245.2 L1503.0,1246.1 L1506.0,1247.1 L1509.0,1248.0 L1512.0,1248.8 L1515.0,1249.7 L1518.0,1250.6 L1521.0,1251.4 L1524.0,1252.2 L1527.0,1253.0 L1530.0,1253.8 L1533.0,1254.6 L1536.0,1255.3 L1539.0,1256.1 L1542.0,1256.8 L1545.0,1257.5 L1548.0,1258.2 L1551.0,1258.9 L1554.0,1259.6 L1557.0,1260.2 L1560.0,1260.9 L1563.0,1261.5 L1566.0,1262.1 L1569.0,1262.7 L1572.0,1263.3 L1575.0,1263.9 L1578.0,1264.5 L1581.0,1265.1 L1584.0,1265.6 L1587.0,1266.1 L1590.0,1266.7 L1593.0,1267.2 L1596.0,1267.7 L1599.0,1268.2 L1602.0,1268.7 L1605.0,1269.1 L1608.0,1269.6 L1611.0,1270.0 L1614.0,1270.5 L1617.0,1270.9 L1620.0,1271.3 L1623.0,1271.8 L1626.0,1272.2 L1629.0,1272.6 L1632.0,1273.0 L1635.0,1273.3 L1638.0,1273.7 L1641.0,1274.1 L1644.0,1274.4 L1647.0,1274.8 L1650.0,1275.1 L1653.0,1275.5 L1656.0,1275.8 L1659.0,1276.1 L1662.0,1276.4 L1665.0,1276.7 L1668.0,1277.0 L1671.0,1277.3 L1674.0,1277.6 L1677.0,1277.9 L1680.0,1278.2 L1683.0,1278.5 L1686.0,1278.7 L1689.0,1279.0 L1692.0,1279.2 L1695.0,1279.5 L1698.0,1279.7 L1701.0,1280.0 L1704.0,1280.2 L1707.0,1280.4 L1710.0,1280.7 L1713.0,1280.9 L1716.0,1281.1 L1719.0,1281.3 L1722.0,1281.5 L1725.0,1281.7 L1728.0,1281.9 L1731.0,1282.1 L1734.0,1282.3 L1737.0,1282.5 L1740.0,1282.7 L1743.0,1282.8 L1746.0,1283.0 L1749.0,1283.2 L1752.0,1283.4 L1755.0,1283.5 L1758.0,1283.7 L1761.0,1283.8 L1764.0,1284.0 L1767.0,1284.1 L1770.0,1284.3 L1773.0,1284.4 L1776.0,1284.6 L1779.0,1284.7 L1782.0,1284.9 L1785.0,1285.0 L1788.0,1285.1 L1791.0,1285.3 L1794.0,1285.4 L1797.0,1285.5 L1800.0,1285.6 L1803.0,1285.7 L1806.0,1285.9 L1809.0,1286.0 L1812.0,1286.1 L1815.0,1286.2 L1818.0,1286.3 L1821.0,1286.4 L1824.0,1286.5 L1827.0,1286.6 L1830.0,1286.7 L1833.0,1286.8 L1836.0,1286.9 L1839.0,1287.0 L1842.0,1287.1 L1845.0,1287.2 L1848.0,1287.3 L1851.0,1287.3 L1854.0,1287.4 L1857.0,1287.5 L1860.0,1287.6 L1863.0,1287.7 L1866.0,1287.7 L1869.0,1287.8 L1872.0,1287.9 L1875.0,1288.0 L1878.0,1288.0 L1881.0,1288.1 L1884.0,1288.2 L1887.0,1288.2 L1890.0,1288.3 L1893.0,1288.4 L1896.0,1288.4 L1899.0,1288.5 L1902.0,1288.6 L1905.0,1288.6 L1908.0,1288.7 L1911.0,1288.7 L1914.0,1288.8 L1917.0,1288.9 L1920.0,1288.9 L1923.0,1289.0 L1926.0,1289.0 L1929.0,1289.1 L1932.0,1289.1 L1935.0,1289.2 L1938.0,1289.2 L1941.0,1289.3 L1944.0,1289.3 L1947.0,1289.4 L1950.0,1289.4 L1953.0,1289.5 L1956.0,1289.5 L1959.0,1289.5 L1962.0,1289.6 L1965.0,1289.6 L1968.0,1289.7 L1971.0,1289.7 L1974.0,1289.7 L1977.0,1289.8 L1980.0,1289.8 L1983.0,1289.9 L1986.0,1289.9 L1989.0,1289.9 L1992.0,1290.0 L1995.0,1290.0 L1998.0,1290.0 L2001.0,1290.1" stroke-width="3.4" stroke-dasharray="18 13"/>
<path d="M273.0,1292.0 L276.0,1292.0 L279.0,1292.0 L282.0,1292.0 L285.0,1292.0 L288.0,1292.0 L291.0,1292.0 L294.0,1292.0 L297.0,1292.0 L300.0,1292.0 L303.0,1292.0 L306.0,1292.0 L309.0,1292.0 L312.0,1292.0 L315.0,1292.0 L318.0,1292.0 L321.0,1292.0 L324.0,1292.0 L327.0,1292.0 L330.0,1292.0 L333.0,1292.0 L336.0,1292.0 L339.0,1292.0 L342.0,1292.0 L345.0,1292.0 L348.0,1292.0 L351.0,1292.0 L354.0,1292.0 L357.0,1292.0 L360.0,1292.0 L363.0,1292.0 L366.0,1292.0 L369.0,1292.0 L372.0,1292.0 L375.0,1292.0 L378.0,1292.0 L381.0,1292.0 L384.0,1292.0 L387.0,1292.0 L390.0,1292.0 L393.0,1292.0 L396.0,1292.0 L399.0,1292.0 L402.0,1292.0 L405.0,1292.0 L408.0,1292.0 L411.0,1292.0 L414.0,1292.0 L417.0,1292.0 L420.0,1292.0 L423.0,1292.0 L426.0,1292.0 L429.0,1292.0 L432.0,1291.9 L435.0,1291.9 L438.0,1291.9 L441.0,1291.9 L444.0,1291.9 L447.0,1291.9 L450.0,1291.9 L453.0,1291.9 L456.0,1291.9 L459.0,1291.9 L462.0,1291.9 L465.0,1291.9 L468.0,1291.9 L471.0,1291.9 L474.0,1291.9 L477.0,1291.9 L480.0,1291.9 L483.0,1291.9 L486.0,1291.9 L489.0,1291.9 L492.0,1291.9 L495.0,1291.9 L498.0,1291.9 L501.0,1291.9 L504.0,1291.8 L507.0,1291.8 L510.0,1291.8 L513.0,1291.8 L516.0,1291.8 L519.0,1291.8 L522.0,1291.8 L525.0,1291.8 L528.0,1291.8 L531.0,1291.8 L534.0,1291.8 L537.0,1291.8 L540.0,1291.7 L543.0,1291.7 L546.0,1291.7 L549.0,1291.7 L552.0,1291.7 L555.0,1291.7 L558.0,1291.7 L561.0,1291.6 L564.0,1291.6 L567.0,1291.6 L570.0,1291.6 L573.0,1291.6 L576.0,1291.6 L579.0,1291.5 L582.0,1291.5 L585.0,1291.5 L588.0,1291.5 L591.0,1291.5 L594.0,1291.4 L597.0,1291.4 L600.0,1291.4 L603.0,1291.4 L606.0,1291.3 L609.0,1291.3 L612.0,1291.3 L615.0,1291.2 L618.0,1291.2 L621.0,1291.2 L624.0,1291.2 L627.0,1291.1 L630.0,1291.1 L633.0,1291.0 L636.0,1291.0 L639.0,1291.0 L642.0,1290.9 L645.0,1290.9 L648.0,1290.8 L651.0,1290.8 L654.0,1290.7 L657.0,1290.7 L660.0,1290.6 L663.0,1290.6 L666.0,1290.5 L669.0,1290.5 L672.0,1290.4 L675.0,1290.3 L678.0,1290.3 L681.0,1290.2 L684.0,1290.1 L687.0,1290.0 L690.0,1290.0 L693.0,1289.9 L696.0,1289.8 L699.0,1289.7 L702.0,1289.6 L705.0,1289.5 L708.0,1289.4 L711.0,1289.3 L714.0,1289.2 L717.0,1289.1 L720.0,1289.0 L723.0,1288.9 L726.0,1288.8 L729.0,1288.7 L732.0,1288.5 L735.0,1288.4 L738.0,1288.3 L741.0,1288.1 L744.0,1288.0 L747.0,1287.8 L750.0,1287.7 L753.0,1287.5 L756.0,1287.3 L759.0,1287.1 L762.0,1287.0 L765.0,1286.8 L768.0,1286.6 L771.0,1286.4 L774.0,1286.2 L777.0,1286.0 L780.0,1285.7 L783.0,1285.5 L786.0,1285.3 L789.0,1285.0 L792.0,1284.8 L795.0,1284.5 L798.0,1284.2 L801.0,1283.9 L804.0,1283.6 L807.0,1283.3 L810.0,1283.0 L813.0,1282.7 L816.0,1282.4 L819.0,1282.0 L822.0,1281.7 L825.0,1281.3 L828.0,1280.9 L831.0,1280.5 L834.0,1280.1 L837.0,1279.7 L840.0,1279.3 L843.0,1278.8 L846.0,1278.4 L849.0,1277.9 L852.0,1277.4 L855.0,1276.9 L858.0,1276.4 L861.0,1275.8 L864.0,1275.2 L867.0,1274.7 L870.0,1274.1 L873.0,1273.4 L876.0,1272.8 L879.0,1272.2 L882.0,1271.5 L885.0,1270.8 L888.0,1270.0 L891.0,1269.3 L894.0,1268.5 L897.0,1267.7 L900.0,1266.9 L903.0,1266.1 L906.0,1265.2 L909.0,1264.3 L912.0,1263.4 L915.0,1262.4 L918.0,1261.4 L921.0,1260.4 L924.0,1259.4 L927.0,1258.3 L930.0,1257.2 L933.0,1256.0 L936.0,1254.8 L939.0,1253.6 L942.0,1252.4 L945.0,1251.1 L948.0,1249.7 L951.0,1248.3 L954.0,1246.9 L957.0,1245.5 L960.0,1244.0 L963.0,1242.4 L966.0,1240.8 L969.0,1239.2 L972.0,1237.5 L975.0,1235.7 L978.0,1233.9 L981.0,1232.1 L984.0,1230.2 L987.0,1228.2 L990.0,1226.2 L993.0,1224.1 L996.0,1222.0 L999.0,1219.8 L1002.0,1217.5 L1005.0,1215.2 L1008.0,1212.8 L1011.0,1210.3 L1014.0,1207.8 L1017.0,1205.2 L1020.0,1202.5 L1023.0,1199.7 L1026.0,1196.9 L1029.0,1194.0 L1032.0,1191.0 L1035.0,1187.9 L1038.0,1184.7 L1041.0,1181.5 L1044.0,1178.1 L1047.0,1174.7 L1050.0,1171.1 L1053.0,1167.5 L1056.0,1163.7 L1059.0,1159.9 L1062.0,1156.0 L1065.0,1151.9 L1068.0,1147.7 L1071.0,1143.5 L1074.0,1139.1 L1077.0,1134.6 L1080.0,1129.9 L1083.0,1125.2 L1086.0,1120.3 L1089.0,1115.3 L1092.0,1110.2 L1095.0,1104.9 L1098.0,1099.5 L1101.0,1094.0 L1104.0,1088.3 L1107.0,1082.5 L1110.0,1076.5 L1113.0,1070.4 L1116.0,1064.2 L1119.0,1057.8 L1122.0,1051.2 L1125.0,1044.5 L1128.0,1037.6 L1131.0,1030.5 L1134.0,1023.3 L1137.0,1015.9 L1140.0,1008.4 L1143.0,1000.6 L1146.0,992.8 L1149.0,984.7 L1152.0,976.4 L1155.0,968.0 L1158.0,959.4 L1161.0,950.7 L1164.0,941.7 L1167.0,932.6 L1170.0,923.3 L1173.0,913.8 L1176.0,904.1 L1179.0,894.3 L1182.0,884.2 L1185.0,874.0 L1188.0,863.7 L1191.0,853.1 L1194.0,842.4 L1197.0,831.6 L1200.0,820.5 L1203.0,809.4 L1206.0,798.0 L1209.0,786.6 L1212.0,775.0 L1215.0,763.2 L1218.0,751.4 L1221.0,739.4 L1224.0,727.3 L1227.0,715.1 L1230.0,702.9 L1233.0,690.5 L1236.0,678.2 L1239.0,665.7 L1242.0,653.3 L1245.0,640.8 L1248.0,628.3 L1251.0,615.8 L1254.0,603.4 L1257.0,591.0 L1260.0,578.6 L1263.0,566.4 L1266.0,554.3 L1269.0,542.3 L1272.0,530.4 L1275.0,518.7 L1278.0,507.2 L1281.0,495.9 L1284.0,484.9 L1287.0,474.1 L1290.0,463.6 L1293.0,453.4 L1296.0,443.5 L1299.0,434.0 L1302.0,424.9 L1305.0,416.1 L1308.0,407.8 L1311.0,399.9 L1314.0,392.4 L1317.0,385.5 L1320.0,379.0 L1323.0,373.0 L1326.0,367.5 L1329.0,362.6 L1332.0,358.2 L1335.0,354.3 L1338.0,351.1 L1341.0,348.4 L1344.0,346.2 L1347.0,344.7 L1350.0,343.7 L1353.0,343.3 L1356.0,343.5 L1359.0,344.3 L1362.0,345.6 L1365.0,347.5 L1368.0,349.9 L1371.0,352.9 L1374.0,356.4 L1377.0,360.4 L1380.0,365.0 L1383.0,370.0 L1386.0,375.5 L1389.0,381.4 L1392.0,387.8 L1395.0,394.6 L1398.0,401.8 L1401.0,409.4 L1404.0,417.3 L1407.0,425.5 L1410.0,434.1 L1413.0,443.0 L1416.0,452.1 L1419.0,461.5 L1422.0,471.2 L1425.0,481.0 L1428.0,491.0 L1431.0,501.2 L1434.0,511.6 L1437.0,522.1 L1440.0,532.7 L1443.0,543.4 L1446.0,554.2 L1449.0,565.0 L1452.0,575.9 L1455.0,586.8 L1458.0,597.8 L1461.0,608.8 L1464.0,619.7 L1467.0,630.6 L1470.0,641.5 L1473.0,652.4 L1476.0,663.2 L1479.0,674.0 L1482.0,684.7 L1485.0,695.3 L1488.0,705.8 L1491.0,716.3 L1494.0,726.6 L1497.0,736.9 L1500.0,747.0 L1503.0,757.0 L1506.0,766.9 L1509.0,776.7 L1512.0,786.4 L1515.0,795.9 L1518.0,805.3 L1521.0,814.6 L1524.0,823.7 L1527.0,832.7 L1530.0,841.6 L1533.0,850.3 L1536.0,858.9 L1539.0,867.4 L1542.0,875.7 L1545.0,883.9 L1548.0,891.9 L1551.0,899.8 L1554.0,907.6 L1557.0,915.2 L1560.0,922.7 L1563.0,930.1 L1566.0,937.3 L1569.0,944.4 L1572.0,951.3 L1575.0,958.2 L1578.0,964.9 L1581.0,971.4 L1584.0,977.9 L1587.0,984.2 L1590.0,990.4 L1593.0,996.5 L1596.0,1002.4 L1599.0,1008.3 L1602.0,1014.0 L1605.0,1019.6 L1608.0,1025.1 L1611.0,1030.5 L1614.0,1035.7 L1617.0,1040.9 L1620.0,1046.0 L1623.0,1050.9 L1626.0,1055.8 L1629.0,1060.6 L1632.0,1065.2 L1635.0,1069.8 L1638.0,1074.2 L1641.0,1078.6 L1644.0,1082.9 L1647.0,1087.1 L1650.0,1091.2 L1653.0,1095.3 L1656.0,1099.2 L1659.0,1103.1 L1662.0,1106.8 L1665.0,1110.5 L1668.0,1114.2 L1671.0,1117.7 L1674.0,1121.2 L1677.0,1124.6 L1680.0,1127.9 L1683.0,1131.2 L1686.0,1134.4 L1689.0,1137.5 L1692.0,1140.6 L1695.0,1143.6 L1698.0,1146.5 L1701.0,1149.4 L1704.0,1152.2 L1707.0,1154.9 L1710.0,1157.6 L1713.0,1160.3 L1716.0,1162.9 L1719.0,1165.4 L1722.0,1167.9 L1725.0,1170.3 L1728.0,1172.7 L1731.0,1175.0 L1734.0,1177.3 L1737.0,1179.5 L1740.0,1181.7 L1743.0,1183.8 L1746.0,1185.9 L1749.0,1188.0 L1752.0,1190.0 L1755.0,1192.0 L1758.0,1193.9 L1761.0,1195.8 L1764.0,1197.6 L1767.0,1199.4 L1770.0,1201.2 L1773.0,1202.9 L1776.0,1204.6 L1779.0,1206.3 L1782.0,1207.9 L1785.0,1209.5 L1788.0,1211.1 L1791.0,1212.6 L1794.0,1214.1 L1797.0,1215.6 L1800.0,1217.1 L1803.0,1218.5 L1806.0,1219.9 L1809.0,1221.2 L1812.0,1222.5 L1815.0,1223.8 L1818.0,1225.1 L1821.0,1226.4 L1824.0,1227.6 L1827.0,1228.8 L1830.0,1230.0 L1833.0,1231.1 L1836.0,1232.2 L1839.0,1233.4 L1842.0,1234.4 L1845.0,1235.5 L1848.0,1236.5 L1851.0,1237.6 L1854.0,1238.6 L1857.0,1239.5 L1860.0,1240.5 L1863.0,1241.4 L1866.0,1242.4 L1869.0,1243.3 L1872.0,1244.2 L1875.0,1245.0 L1878.0,1245.9 L1881.0,1246.7 L1884.0,1247.5 L1887.0,1248.3 L1890.0,1249.1 L1893.0,1249.9 L1896.0,1250.7 L1899.0,1251.4 L1902.0,1252.1 L1905.0,1252.8 L1908.0,1253.5 L1911.0,1254.2 L1914.0,1254.9 L1917.0,1255.6 L1920.0,1256.2 L1923.0,1256.8 L1926.0,1257.5 L1929.0,1258.1 L1932.0,1258.7 L1935.0,1259.3 L1938.0,1259.8 L1941.0,1260.4 L1944.0,1261.0 L1947.0,1261.5 L1950.0,1262.0 L1953.0,1262.6 L1956.0,1263.1 L1959.0,1263.6 L1962.0,1264.1 L1965.0,1264.6 L1968.0,1265.0 L1971.0,1265.5 L1974.0,1266.0 L1977.0,1266.4 L1980.0,1266.9 L1983.0,1267.3 L1986.0,1267.7 L1989.0,1268.1 L1992.0,1268.5 L1995.0,1268.9 L1998.0,1269.3 L2001.0,1269.7" stroke-width="3.4" stroke-dasharray="18 13"/>
<path d="M273.0,1287.0 L276.0,1286.9 L279.0,1286.6 L282.0,1286.4 L285.0,1286.2 L288.0,1286.0 L291.0,1285.8 L294.0,1285.5 L297.0,1285.3 L300.0,1285.0 L303.0,1284.8 L306.0,1284.5 L309.0,1284.2 L312.0,1283.9 L315.0,1283.6 L318.0,1283.3 L321.0,1283.0 L324.0,1282.7 L327.0,1282.4 L330.0,1282.0 L333.0,1281.6 L336.0,1281.3 L339.0,1280.9 L342.0,1280.5 L345.0,1280.1 L348.0,1279.6 L351.0,1279.2 L354.0,1278.7 L357.0,1278.3 L360.0,1277.8 L363.0,1277.3 L366.0,1276.7 L369.0,1276.2 L372.0,1275.6 L375.0,1275.1 L378.0,1274.5 L381.0,1273.8 L384.0,1273.2 L387.0,1272.5 L390.0,1271.9 L393.0,1271.2 L396.0,1270.4 L399.0,1269.7 L402.0,1268.9 L405.0,1268.1 L408.0,1267.3 L411.0,1266.4 L414.0,1265.5 L417.0,1264.6 L420.0,1263.6 L423.0,1262.7 L426.0,1261.7 L429.0,1260.6 L432.0,1259.5 L435.0,1258.4 L438.0,1257.3 L441.0,1256.1 L444.0,1254.8 L447.0,1253.6 L450.0,1252.2 L453.0,1250.9 L456.0,1249.5 L459.0,1248.0 L462.0,1246.6 L465.0,1245.0 L468.0,1243.4 L471.0,1241.8 L474.0,1240.1 L477.0,1238.4 L480.0,1236.6 L483.0,1234.7 L486.0,1232.8 L489.0,1230.9 L492.0,1228.8 L495.0,1226.8 L498.0,1224.6 L501.0,1222.4 L504.0,1220.1 L507.0,1217.8 L510.0,1215.4 L513.0,1212.9 L516.0,1210.3 L519.0,1207.7 L522.0,1205.0 L525.0,1202.2 L528.0,1199.3 L531.0,1196.4 L534.0,1193.4 L537.0,1190.3 L540.0,1187.1 L543.0,1183.8 L546.0,1180.5 L549.0,1177.0 L552.0,1173.5 L555.0,1169.9 L558.0,1166.3 L561.0,1162.5 L564.0,1158.6 L567.0,1154.7 L570.0,1150.7 L573.0,1146.6 L576.0,1142.4 L579.0,1138.1 L582.0,1133.7 L585.0,1129.2 L588.0,1124.7 L591.0,1120.0 L594.0,1115.3 L597.0,1110.4 L600.0,1105.5 L603.0,1100.5 L606.0,1095.5 L609.0,1090.3 L612.0,1085.1 L615.0,1079.9 L618.0,1074.5 L621.0,1069.1 L624.0,1063.7 L627.0,1058.3 L630.0,1052.8 L633.0,1047.2 L636.0,1041.7 L639.0,1036.1 L642.0,1030.6 L645.0,1025.0 L648.0,1019.5 L651.0,1014.0 L654.0,1008.6 L657.0,1003.2 L660.0,997.8 L663.0,992.6 L666.0,987.4 L669.0,982.3 L672.0,977.4 L675.0,972.5 L678.0,967.9 L681.0,963.3 L684.0,958.9 L687.0,954.7 L690.0,950.7 L693.0,946.9 L696.0,943.3 L699.0,939.9 L702.0,936.8 L705.0,933.9 L708.0,931.2 L711.0,928.8 L714.0,926.7 L717.0,924.8 L720.0,923.2 L723.0,921.9 L726.0,920.8 L729.0,920.1 L732.0,919.6 L735.0,919.3 L738.0,919.4 L741.0,919.7 L744.0,920.3 L747.0,921.1 L750.0,922.2 L753.0,923.6 L756.0,925.2 L759.0,927.0 L762.0,929.0 L765.0,931.2 L768.0,933.7 L771.0,936.3 L774.0,939.0 L777.0,942.0 L780.0,945.1 L783.0,948.3 L786.0,951.6 L789.0,955.1 L792.0,958.6 L795.0,962.2 L798.0,965.9 L801.0,969.7 L804.0,973.5 L807.0,977.4 L810.0,981.2 L813.0,985.1 L816.0,989.0 L819.0,992.9 L822.0,996.8 L825.0,1000.7 L828.0,1004.5 L831.0,1008.3 L834.0,1012.1 L837.0,1015.8 L840.0,1019.5 L843.0,1023.0 L846.0,1026.6 L849.0,1030.0 L852.0,1033.4 L855.0,1036.7 L858.0,1039.9 L861.0,1043.0 L864.0,1046.1 L867.0,1049.0 L870.0,1051.8 L873.0,1054.6 L876.0,1057.2 L879.0,1059.8 L882.0,1062.2 L885.0,1064.5 L888.0,1066.7 L891.0,1068.9 L894.0,1070.9 L897.0,1072.8 L900.0,1074.6 L903.0,1076.3 L906.0,1077.9 L909.0,1079.4 L912.0,1080.8 L915.0,1082.0 L918.0,1083.2 L921.0,1084.3 L924.0,1085.3 L927.0,1086.2 L930.0,1086.9 L933.0,1087.6 L936.0,1088.2 L939.0,1088.7 L942.0,1089.2 L945.0,1089.5 L948.0,1089.7 L951.0,1089.9 L954.0,1090.0 L957.0,1090.0 L960.0,1089.9 L963.0,1089.7 L966.0,1089.5 L969.0,1089.1 L972.0,1088.7 L975.0,1088.2 L978.0,1087.7 L981.0,1087.1 L984.0,1086.4 L987.0,1085.6 L990.0,1084.7 L993.0,1083.8 L996.0,1082.7 L999.0,1081.6 L1002.0,1080.5 L1005.0,1079.2 L1008.0,1077.8 L1011.0,1076.4 L1014.0,1074.8 L1017.0,1073.2 L1020.0,1071.5 L1023.0,1069.7 L1026.0,1067.7 L1029.0,1065.7 L1032.0,1063.6 L1035.0,1061.3 L1038.0,1058.9 L1041.0,1056.4 L1044.0,1053.8 L1047.0,1051.1 L1050.0,1048.2 L1053.0,1045.2 L1056.0,1042.1 L1059.0,1038.8 L1062.0,1035.4 L1065.0,1031.8 L1068.0,1028.1 L1071.0,1024.2 L1074.0,1020.1 L1077.0,1015.9 L1080.0,1011.6 L1083.0,1007.0 L1086.0,1002.3 L1089.0,997.4 L1092.0,992.4 L1095.0,987.2 L1098.0,981.7 L1101.0,976.1 L1104.0,970.3 L1107.0,964.4 L1110.0,958.2 L1113.0,951.8 L1116.0,945.2 L1119.0,938.5 L1122.0,931.5 L1125.0,924.3 L1128.0,917.0 L1131.0,909.4 L1134.0,901.6 L1137.0,893.6 L1140.0,885.4 L1143.0,877.0 L1146.0,868.4 L1149.0,859.5 L1152.0,850.5 L1155.0,841.2 L1158.0,831.8 L1161.0,822.1 L1164.0,812.2 L1167.0,802.1 L1170.0,791.9 L1173.0,781.4 L1176.0,770.7 L1179.0,759.8 L1182.0,748.7 L1185.0,737.5 L1188.0,726.0 L1191.0,714.4 L1194.0,702.6 L1197.0,690.6 L1200.0,678.5 L1203.0,666.2 L1206.0,653.8 L1209.0,641.2 L1212.0,628.5 L1215.0,615.7 L1218.0,602.8 L1221.0,589.7 L1224.0,576.6 L1227.0,563.4 L1230.0,550.1 L1233.0,536.8 L1236.0,523.5 L1239.0,510.1 L1242.0,496.8 L1245.0,483.4 L1248.0,470.1 L1251.0,456.9 L1254.0,443.8 L1257.0,430.7 L1260.0,417.8 L1263.0,405.0 L1266.0,392.3 L1269.0,379.9 L1272.0,367.6 L1275.0,355.6 L1278.0,343.9 L1281.0,332.4 L1284.0,321.3 L1287.0,310.5 L1290.0,300.0 L1293.0,289.9 L1296.0,280.3 L1299.0,271.0 L1302.0,262.2 L1305.0,253.9 L1308.0,246.0 L1311.0,238.7 L1314.0,231.9 L1317.0,225.7 L1320.0,220.0 L1323.0,214.9 L1326.0,210.4 L1329.0,206.5 L1332.0,203.2 L1335.0,200.5 L1338.0,198.5 L1341.0,197.1 L1344.0,196.3 L1347.0,196.2 L1350.0,196.7 L1353.0,197.8 L1356.0,199.6 L1359.0,201.9 L1362.0,204.8 L1365.0,208.3 L1368.0,212.4 L1371.0,217.1 L1374.0,222.3 L1377.0,228.1 L1380.0,234.4 L1383.0,241.2 L1386.0,248.4 L1389.0,256.2 L1392.0,264.4 L1395.0,273.0 L1398.0,282.0 L1401.0,291.4 L1404.0,301.2 L1407.0,311.3 L1410.0,321.8 L1413.0,332.5 L1416.0,343.5 L1419.0,354.8 L1422.0,366.3 L1425.0,378.0 L1428.0,389.9 L1431.0,402.0 L1434.0,414.2 L1437.0,426.5 L1440.0,439.0 L1443.0,451.6 L1446.0,464.2 L1449.0,476.9 L1452.0,489.6 L1455.0,502.3 L1458.0,514.9 L1461.0,527.6 L1464.0,540.2 L1467.0,552.8 L1470.0,565.3 L1473.0,577.8 L1476.0,590.2 L1479.0,602.5 L1482.0,614.7 L1485.0,626.8 L1488.0,638.7 L1491.0,650.6 L1494.0,662.3 L1497.0,674.0 L1500.0,685.4 L1503.0,696.7 L1506.0,707.9 L1509.0,719.0 L1512.0,729.9 L1515.0,740.6 L1518.0,751.2 L1521.0,761.6 L1524.0,771.9 L1527.0,782.0 L1530.0,791.9 L1533.0,801.7 L1536.0,811.3 L1539.0,820.8 L1542.0,830.1 L1545.0,839.2 L1548.0,848.2 L1551.0,857.0 L1554.0,865.7 L1557.0,874.2 L1560.0,882.5 L1563.0,890.7 L1566.0,898.7 L1569.0,906.6 L1572.0,914.4 L1575.0,922.0 L1578.0,929.4 L1581.0,936.7 L1584.0,943.9 L1587.0,950.9 L1590.0,957.8 L1593.0,964.5 L1596.0,971.1 L1599.0,977.6 L1602.0,984.0 L1605.0,990.2 L1608.0,996.3 L1611.0,1002.3 L1614.0,1008.1 L1617.0,1013.8 L1620.0,1019.5 L1623.0,1025.0 L1626.0,1030.3 L1629.0,1035.6 L1632.0,1040.8 L1635.0,1045.9 L1638.0,1050.8 L1641.0,1055.7 L1644.0,1060.4 L1647.0,1065.1 L1650.0,1069.6 L1653.0,1074.1 L1656.0,1078.5 L1659.0,1082.7 L1662.0,1086.9 L1665.0,1091.0 L1668.0,1095.1 L1671.0,1099.0 L1674.0,1102.8 L1677.0,1106.6 L1680.0,1110.3 L1683.0,1113.9 L1686.0,1117.4 L1689.0,1120.9 L1692.0,1124.3 L1695.0,1127.6 L1698.0,1130.8 L1701.0,1134.0 L1704.0,1137.1 L1707.0,1140.2 L1710.0,1143.1 L1713.0,1146.1 L1716.0,1148.9 L1719.0,1151.7 L1722.0,1154.5 L1725.0,1157.2 L1728.0,1159.8 L1731.0,1162.4 L1734.0,1164.9 L1737.0,1167.3 L1740.0,1169.8 L1743.0,1172.1 L1746.0,1174.4 L1749.0,1176.7 L1752.0,1178.9 L1755.0,1181.1 L1758.0,1183.2 L1761.0,1185.3 L1764.0,1187.4 L1767.0,1189.4 L1770.0,1191.4 L1773.0,1193.3 L1776.0,1195.2 L1779.0,1197.0 L1782.0,1198.8 L1785.0,1200.6 L1788.0,1202.3 L1791.0,1204.0 L1794.0,1205.7 L1797.0,1207.3 L1800.0,1208.9 L1803.0,1210.5 L1806.0,1212.0 L1809.0,1213.5 L1812.0,1215.0 L1815.0,1216.4 L1818.0,1217.9 L1821.0,1219.2 L1824.0,1220.6 L1827.0,1221.9 L1830.0,1223.2 L1833.0,1224.5 L1836.0,1225.8 L1839.0,1227.0 L1842.0,1228.2 L1845.0,1229.4 L1848.0,1230.6 L1851.0,1231.7 L1854.0,1232.8 L1857.0,1233.9 L1860.0,1235.0 L1863.0,1236.0 L1866.0,1237.1 L1869.0,1238.1 L1872.0,1239.1 L1875.0,1240.0 L1878.0,1241.0 L1881.0,1241.9 L1884.0,1242.8 L1887.0,1243.7 L1890.0,1244.6 L1893.0,1245.5 L1896.0,1246.3 L1899.0,1247.1 L1902.0,1247.9 L1905.0,1248.7 L1908.0,1249.5 L1911.0,1250.3 L1914.0,1251.1 L1917.0,1251.8 L1920.0,1252.5 L1923.0,1253.2 L1926.0,1253.9 L1929.0,1254.6 L1932.0,1255.3 L1935.0,1255.9 L1938.0,1256.6 L1941.0,1257.2 L1944.0,1257.8 L1947.0,1258.5 L1950.0,1259.1 L1953.0,1259.6 L1956.0,1260.2 L1959.0,1260.8 L1962.0,1261.3 L1965.0,1261.9 L1968.0,1262.4 L1971.0,1262.9 L1974.0,1263.5 L1977.0,1264.0 L1980.0,1264.5 L1983.0,1265.0 L1986.0,1265.4 L1989.0,1265.9 L1992.0,1266.4 L1995.0,1266.8 L1998.0,1267.3 L2001.0,1267.7" stroke-width="4.8" stroke-linejoin="round"/>
</g>
<g stroke="#000" fill="none">
<rect x="273.1" y="17.3" width="1728.9" height="1274.6" stroke-width="6.5"/>
<line x1="587.7" y1="1292" x2="587.7" y2="1263.7" stroke-width="6"/>
<line x1="902.0" y1="1292" x2="902.0" y2="1263.7" stroke-width="6"/>
<line x1="1216.4" y1="1292" x2="1216.4" y2="1263.7" stroke-width="6"/>
<line x1="1530.7" y1="1292" x2="1530.7" y2="1263.7" stroke-width="6"/>
<line x1="1845.0" y1="1292" x2="1845.0" y2="1263.7" stroke-width="6"/>
<line x1="430.6" y1="1292" x2="430.6" y2="1277" stroke-width="5.5"/>
<line x1="744.9" y1="1292" x2="744.9" y2="1277" stroke-width="5.5"/>
<line x1="1059.2" y1="1292" x2="1059.2" y2="1277" stroke-width="5.5"/>
<line x1="1373.5" y1="1292" x2="1373.5" y2="1277" stroke-width="5.5"/>
<line x1="1687.9" y1="1292" x2="1687.9" y2="1277" stroke-width="5.5"/>
<line x1="273" y1="1002.5" x2="300.5" y2="1002.5" stroke-width="6.3"/>
<line x1="273" y1="713.0" x2="300.5" y2="713.0" stroke-width="6.3"/>
<line x1="273" y1="423.5" x2="300.5" y2="423.5" stroke-width="6.3"/>
<line x1="273" y1="134.0" x2="300.5" y2="134.0" stroke-width="6.3"/>
<line x1="273" y1="1147.2" x2="289.5" y2="1147.2" stroke-width="5.5"/>
<line x1="273" y1="857.8" x2="289.5" y2="857.8" stroke-width="5.5"/>
<line x1="273" y1="568.2" x2="289.5" y2="568.2" stroke-width="5.5"/>
<line x1="273" y1="278.8" x2="289.5" y2="278.8" stroke-width="5.5"/>
</g>
<line x1="1589.8" y1="228.7" x2="1416.0" y2="382.6" stroke="#000" stroke-width="2.1"/><polygon points="1396.5,399.8 1413.8,377.1 1421.1,385.4" fill="#000"/>
<line x1="1601.1" y1="465.1" x2="1036.2" y2="1228.7" stroke="#000" stroke-width="2.1"/><polygon points="1020.7,1249.6 1032.9,1223.8 1041.8,1230.4" fill="#000"/>
<line x1="1612.0" y1="667.9" x2="1342.8" y2="1159.4" stroke="#000" stroke-width="2.1"/><polygon points="1330.3,1182.2 1338.9,1155.0 1348.6,1160.3" fill="#000"/>
<line x1="1654.0" y1="913.7" x2="1333.0" y2="1233.3" stroke="#000" stroke-width="2.1"/><polygon points="1314.6,1251.6 1330.6,1227.9 1338.3,1235.7" fill="#000"/>
<line x1="891.6" y1="635.5" x2="799.0" y2="943.1" stroke="#000" stroke-width="2.1"/><polygon points="791.5,968.0 794.3,939.6 804.8,942.8" fill="#000"/>
<g fill="#000"><text x="272.4" y="1376.3" text-anchor="middle" font-family="'Liberation Sans', sans-serif" font-size="74" stroke="#fff" stroke-width="0.6">350</text>
<text x="586.7" y="1376.3" text-anchor="middle" font-family="'Liberation Sans', sans-serif" font-size="74" stroke="#fff" stroke-width="0.6">400</text>
<text x="901.0" y="1376.3" text-anchor="middle" font-family="'Liberation Sans', sans-serif" font-size="74" stroke="#fff" stroke-width="0.6">450</text>
<text x="1215.4" y="1376.3" text-anchor="middle" font-family="'Liberation Sans', sans-serif" font-size="74" stroke="#fff" stroke-width="0.6">500</text>
<text x="1529.7" y="1376.3" text-anchor="middle" font-family="'Liberation Sans', sans-serif" font-size="74" stroke="#fff" stroke-width="0.6">550</text>
<text x="1844.0" y="1376.3" text-anchor="middle" font-family="'Liberation Sans', sans-serif" font-size="74" stroke="#fff" stroke-width="0.6">600</text>
<text x="238.3" y="1306.5" text-anchor="end" font-family="'Liberation Sans', sans-serif" font-size="74" stroke="#fff" stroke-width="0.6">0</text>
<text x="238.3" y="1026.1" text-anchor="end" font-family="'Liberation Sans', sans-serif" font-size="74" stroke="#fff" stroke-width="0.6">5</text>
<text x="247.4" y="731.9" text-anchor="end" font-family="'Liberation Sans', sans-serif" font-size="74" stroke="#fff" stroke-width="0.6">10</text>
<text x="247.7" y="446.6" text-anchor="end" font-family="'Liberation Sans', sans-serif" font-size="74" stroke="#fff" stroke-width="0.6">15</text>
<text x="245.7" y="150.3" text-anchor="end" font-family="'Liberation Sans', sans-serif" font-size="74" stroke="#fff" stroke-width="0.6">20</text>
<text x="322.4" y="100.7" font-family="'Liberation Sans', sans-serif" font-size="74.6" stroke="#fff" stroke-width="0.6">Nb-0.5V-0.45O (at. %)</text>
<text x="0" y="0" transform="translate(853.7,1493) scale(1,1.03)" font-family="'Liberation Sans', sans-serif" font-size="81" stroke="#fff" stroke-width="0.6">Temperature</text>
<text x="0" y="0" transform="translate(1353.90,1491.39) scale(0.8,0.9735099337748344)" font-family="'Liberation Sans', sans-serif" font-size="81" style="" stroke="#fff" stroke-width="0.6">(</text>
<text x="0" y="0" transform="translate(1377.17,1492.30) scale(1.0118918918918918,1.042152466367713)" font-family="'Liberation Sans', sans-serif" font-size="81" style="" stroke="#fff" stroke-width="0.6">K</text>
<text x="0" y="0" transform="translate(1436.60,1491.39) scale(0.8,0.9735099337748344)" font-family="'Liberation Sans', sans-serif" font-size="81" style="" stroke="#fff" stroke-width="0.6">)</text>
<text x="1274.45" y="139.40" font-family="'Liberation Sans', sans-serif" font-size="82" style="" stroke="#fff" stroke-width="0.6">P</text>
<text x="1327.80" y="169.50" font-family="'Liberation Serif', serif" font-size="56.5" style="" stroke="#fff" stroke-width="0.6">II</text>
<text x="617.55" y="893.70" font-family="'Liberation Sans', sans-serif" font-size="82" style="" stroke="#fff" stroke-width="0.6">P</text>
<text x="671.30" y="923.50" font-family="'Liberation Serif', serif" font-size="56" style="" stroke="#fff" stroke-width="0.6">I</text>
<text x="1582.05" y="207.00" font-family="'Liberation Sans', sans-serif" font-size="75" style="" stroke="#fff" stroke-width="0.6">P</text>
<text x="0" y="0" transform="translate(1634.24,206.20) scale(0.85,1.0)" font-family="'Liberation Serif', serif" font-size="76" style="" stroke="#fff" stroke-width="0.5">(</text>
<text x="0" y="0" transform="translate(1671.99,208.60) scale(1.18,1.0)" font-family="'Liberation Serif', serif" font-size="72" style="font-style:italic;" stroke="#fff" stroke-width="1.2">I</text>
<text x="1710.05" y="178.70" font-family="'Liberation Serif', serif" font-size="43.5" style="font-style:italic;" stroke="#fff" stroke-width="0.7">O</text>
<text x="1704.95" y="225.90" font-family="'Liberation Serif', serif" font-size="41" style="" stroke="#fff" stroke-width="0.6">2</text>
<text x="0" y="0" transform="translate(1764.30,233.48) scale(0.871137026239065,1.179831932773109)" font-family="'WenQuanYi Zen Hei', sans-serif" font-size="100" style="">↔</text>
<text x="0" y="0" transform="translate(1867.19,209.00) scale(1.18,1.0)" font-family="'Liberation Serif', serif" font-size="72" style="font-style:italic;" stroke="#fff" stroke-width="1.2">I</text>
<text x="1903.95" y="178.70" font-family="'Liberation Serif', serif" font-size="43.5" style="font-style:italic;" stroke="#fff" stroke-width="0.7">O</text>
<text x="1898.80" y="225.90" font-family="'Liberation Serif', serif" font-size="41" style="" stroke="#fff" stroke-width="0.6">1</text>
<text x="0" y="0" transform="translate(1943.28,206.35) scale(0.85,1.0)" font-family="'Liberation Serif', serif" font-size="76" style="" stroke="#fff" stroke-width="0.5">)</text>
<text x="1597.25" y="452.80" font-family="'Liberation Sans', sans-serif" font-size="75" style="" stroke="#fff" stroke-width="0.6">P</text>
<text x="0" y="0" transform="translate(1648.34,452.00) scale(0.85,1.0)" font-family="'Liberation Serif', serif" font-size="76" style="" stroke="#fff" stroke-width="0.5">(</text>
<text x="0" y="0" transform="translate(1684.99,458.00) scale(1.18,1.0)" font-family="'Liberation Serif', serif" font-size="72" style="font-style:italic;" stroke="#fff" stroke-width="1.2">I</text>
<text x="1721.95" y="428.30" font-family="'Liberation Serif', serif" font-size="43.5" style="font-style:italic;" stroke="#fff" stroke-width="0.7">O</text>
<text x="1716.70" y="475.60" font-family="'Liberation Serif', serif" font-size="41" style="" stroke="#fff" stroke-width="0.6">1</text>
<text x="0" y="0" transform="translate(1777.73,481.83) scale(0.8676384839650156,1.1193277310924374)" font-family="'WenQuanYi Zen Hei', sans-serif" font-size="100" style="">↔</text>
<text x="0" y="0" transform="translate(1880.39,458.00) scale(1.18,1.0)" font-family="'Liberation Serif', serif" font-size="72" style="font-style:italic;" stroke="#fff" stroke-width="1.2">I</text>
<text x="1916.75" y="428.50" font-family="'Liberation Serif', serif" font-size="43.5" style="font-style:italic;" stroke="#fff" stroke-width="0.7">O</text>
<text x="1909.80" y="475.20" font-family="'Liberation Serif', serif" font-size="41" style="" stroke="#fff" stroke-width="0.6">1</text>
<text x="0" y="0" transform="translate(1957.88,451.75) scale(0.85,1.0)" font-family="'Liberation Serif', serif" font-size="76" style="" stroke="#fff" stroke-width="0.5">)</text>
<text x="1610.55" y="642.70" font-family="'Liberation Sans', sans-serif" font-size="75" style="" stroke="#fff" stroke-width="0.6">P</text>
<text x="0" y="0" transform="translate(1662.44,641.80) scale(0.85,1.0)" font-family="'Liberation Serif', serif" font-size="76" style="" stroke="#fff" stroke-width="0.5">(</text>
<text x="0" y="0" transform="translate(1701.89,644.00) scale(1.18,1.0)" font-family="'Liberation Serif', serif" font-size="72" style="font-style:italic;" stroke="#fff" stroke-width="1.2">I</text>
<text x="1738.75" y="615.90" font-family="'Liberation Serif', serif" font-size="43.5" style="font-style:italic;" stroke="#fff" stroke-width="0.7">O</text>
<text x="1734.05" y="661.10" font-family="'Liberation Serif', serif" font-size="41" style="" stroke="#fff" stroke-width="0.6">4</text>
<text x="0" y="0" transform="translate(1794.24,671.67) scale(0.879300291545188,1.2033613445378175)" font-family="'WenQuanYi Zen Hei', sans-serif" font-size="100" style="">↔</text>
<text x="0" y="0" transform="translate(1898.99,644.10) scale(1.18,1.0)" font-family="'Liberation Serif', serif" font-size="72" style="font-style:italic;" stroke="#fff" stroke-width="1.2">I</text>
<text x="1934.85" y="616.10" font-family="'Liberation Serif', serif" font-size="43.5" style="font-style:italic;" stroke="#fff" stroke-width="0.7">O</text>
<text x="1930.40" y="660.80" font-family="'Liberation Serif', serif" font-size="41" style="" stroke="#fff" stroke-width="0.6">3</text>
<text x="0" y="0" transform="translate(1971.38,641.35) scale(0.85,1.0)" font-family="'Liberation Serif', serif" font-size="76" style="" stroke="#fff" stroke-width="0.5">)</text>
<text x="1615.75" y="886.50" font-family="'Liberation Sans', sans-serif" font-size="75" style="" stroke="#fff" stroke-width="0.6">P</text>
<text x="0" y="0" transform="translate(1668.24,885.60) scale(0.85,1.0)" font-family="'Liberation Serif', serif" font-size="76" style="" stroke="#fff" stroke-width="0.5">(</text>
<text x="0" y="0" transform="translate(1699.99,893.50) scale(1.18,1.0)" font-family="'Liberation Serif', serif" font-size="72" style="font-style:italic;" stroke="#fff" stroke-width="1.2">I</text>
<text x="1736.55" y="865.50" font-family="'Liberation Serif', serif" font-size="43.5" style="font-style:italic;" stroke="#fff" stroke-width="0.7">O</text>
<text x="1731.90" y="910.50" font-family="'Liberation Serif', serif" font-size="41" style="" stroke="#fff" stroke-width="0.6">3</text>
<text x="0" y="0" transform="translate(1792.82,921.24) scale(0.8548104956268217,1.2067226890756333)" font-family="'WenQuanYi Zen Hei', sans-serif" font-size="100" style="">↔</text>
<text x="0" y="0" transform="translate(1893.80,893.50) scale(1.18,1.0)" font-family="'Liberation Serif', serif" font-size="72" style="font-style:italic;" stroke="#fff" stroke-width="1.2">I</text>
<text x="1931.75" y="864.50" font-family="'Liberation Serif', serif" font-size="43.5" style="font-style:italic;" stroke="#fff" stroke-width="0.7">O</text>
<text x="1926.55" y="911.30" font-family="'Liberation Serif', serif" font-size="41" style="" stroke="#fff" stroke-width="0.6">2</text>
<text x="0" y="0" transform="translate(1977.08,885.65) scale(0.85,1.0)" font-family="'Liberation Serif', serif" font-size="76" style="" stroke="#fff" stroke-width="0.5">)</text>
<text x="763.55" y="599.50" font-family="'Liberation Sans', sans-serif" font-size="75" style="" stroke="#fff" stroke-width="0.6">P</text>
<text x="0" y="0" transform="translate(815.14,598.20) scale(0.85,1.0)" font-family="'Liberation Serif', serif" font-size="76" style="" stroke="#fff" stroke-width="0.5">(</text>
<text x="0" y="0" transform="translate(848.19,600.70) scale(1.18,1.0)" font-family="'Liberation Serif', serif" font-size="72" style="font-style:italic;" stroke="#fff" stroke-width="1.2">I</text>
<text x="886.55" y="570.90" font-family="'Liberation Serif', serif" font-size="43.5" style="font-style:italic;" stroke="#fff" stroke-width="0.7">O</text>
<text x="881.50" y="618.60" font-family="'Liberation Serif', serif" font-size="41" style="" stroke="#fff" stroke-width="0.6">0</text>
<text x="0" y="0" transform="translate(940.65,626.67) scale(0.8781341107871729,1.2033613445378175)" font-family="'WenQuanYi Zen Hei', sans-serif" font-size="100" style="">↔</text>
<text x="0" y="0" transform="translate(1043.30,601.10) scale(1.18,1.0)" font-family="'Liberation Serif', serif" font-size="72" style="font-style:italic;" stroke="#fff" stroke-width="1.2">I</text>
<text x="1081.75" y="570.60" font-family="'Liberation Serif', serif" font-size="43.5" style="font-style:italic;" stroke="#fff" stroke-width="0.7">O</text>
<text x="1076.80" y="618.40" font-family="'Liberation Serif', serif" font-size="41" style="" stroke="#fff" stroke-width="0.6">0</text>
<text x="0" y="0" transform="translate(1124.97,598.45) scale(0.85,1.0)" font-family="'Liberation Serif', serif" font-size="76" style="" stroke="#fff" stroke-width="0.5">)</text>
<text transform="translate(101.75,844.12) rotate(-90) scale(0.94,1)" font-family="'Liberation Sans', sans-serif" font-size="80" stroke="#fff" stroke-width="0.6">Q</text>
<text transform="translate(59.98,783.00) rotate(-90)" font-family="'Liberation Sans', sans-serif" font-size="48" stroke="#fff" stroke-width="0.6">-</text>
<text transform="translate(59.10,770.35) rotate(-90)" font-family="'Liberation Sans', sans-serif" font-size="48" stroke="#fff" stroke-width="0.6">1</text>
<text transform="translate(102.60,672.27) rotate(-90) scale(0.9,1)" font-family="'Liberation Sans', sans-serif" font-size="77" stroke="#fff" stroke-width="0.6">(</text>
<text transform="translate(107.05,647.10) rotate(-90)" font-family="'Liberation Sans', sans-serif" font-size="64" stroke="#fff" stroke-width="1.0">×</text>
<text transform="translate(103.00,611.44) rotate(-90) scale(0.95,1)" font-family="'Liberation Sans', sans-serif" font-size="81" stroke="#fff" stroke-width="0.6">1</text>
<text transform="translate(103.15,562.89) rotate(-90) scale(0.95,1)" font-family="'Liberation Sans', sans-serif" font-size="81" stroke="#fff" stroke-width="0.6">0</text>
<text transform="translate(59.95,521.17) rotate(-90) scale(1.15,1)" font-family="'Liberation Sans', sans-serif" font-size="57" stroke="#fff" stroke-width="0.6">-</text>
<text transform="translate(59.50,500.01) rotate(-90) scale(0.94,1)" font-family="'Liberation Sans', sans-serif" font-size="57" stroke="#fff" stroke-width="0.6">3</text>
<text transform="translate(102.60,464.75) rotate(-90) scale(0.9,1)" font-family="'Liberation Sans', sans-serif" font-size="77" stroke="#fff" stroke-width="0.6">)</text></g>
</svg>
</body></html>
